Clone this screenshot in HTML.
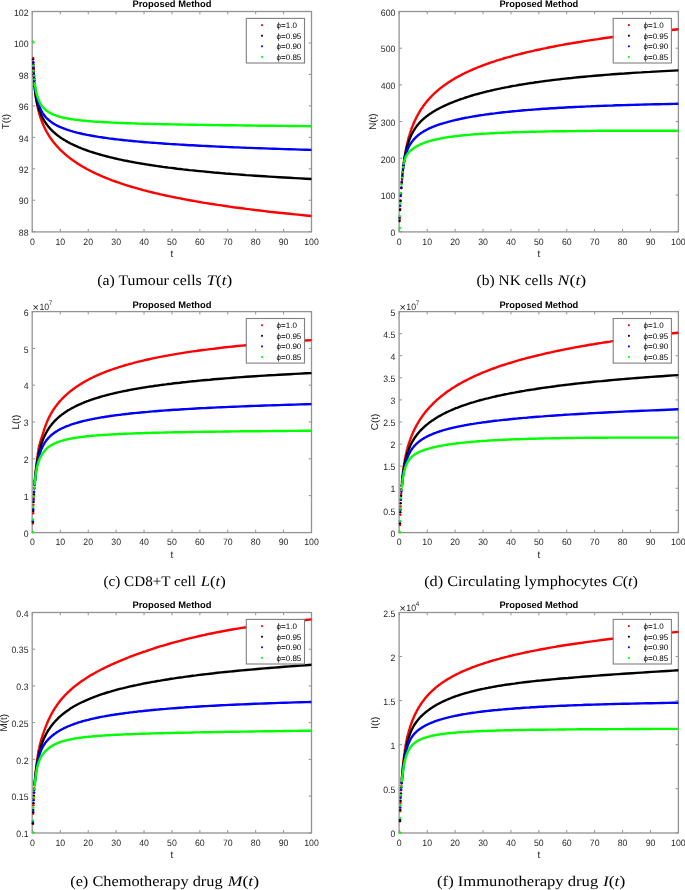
<!DOCTYPE html><html><head><meta charset="utf-8"><title>Proposed Method</title><style>html,body{margin:0;padding:0;background:#fff}svg{display:block;will-change:transform}text{font-family:"Liberation Sans",sans-serif;text-rendering:geometricPrecision}.sf{font-family:"Liberation Serif",serif}</style></head><body>
<svg width="685" height="890" viewBox="0 0 685 890">
<rect width="685" height="890" fill="#fff"/>
<clipPath id="c0"><rect x="32.4" y="10.3" width="280.40000000000003" height="221.39999999999998"/></clipPath>
<rect x="32.199999999999996" y="11.5" width="279.3" height="220.39999999999998" fill="none" stroke="#939393" stroke-width="1.3"/>
<path d="M32.40,231.7v-2.8M32.40,11.5v2.8M60.31,231.7v-2.8M60.31,11.5v2.8M88.22,231.7v-2.8M88.22,11.5v2.8M116.13,231.7v-2.8M116.13,11.5v2.8M144.04,231.7v-2.8M144.04,11.5v2.8M171.95,231.7v-2.8M171.95,11.5v2.8M199.86,231.7v-2.8M199.86,11.5v2.8M227.77,231.7v-2.8M227.77,11.5v2.8M255.68,231.7v-2.8M255.68,11.5v2.8M283.59,231.7v-2.8M283.59,11.5v2.8M311.50,231.7v-2.8M311.50,11.5v2.8M32.4,231.70h2.8M311.5,231.70h-2.8M32.4,200.24h2.8M311.5,200.24h-2.8M32.4,168.79h2.8M311.5,168.79h-2.8M32.4,137.33h2.8M311.5,137.33h-2.8M32.4,105.87h2.8M311.5,105.87h-2.8M32.4,74.41h2.8M311.5,74.41h-2.8M32.4,42.96h2.8M311.5,42.96h-2.8M32.4,11.50h2.8M311.5,11.50h-2.8" stroke="#939393" stroke-width="1" fill="none"/>
<circle cx="33.20" cy="57.93" r="1.2" fill="#ff0000"/><circle cx="33.35" cy="62.42" r="1.2" fill="#ff0000"/><circle cx="33.49" cy="66.11" r="1.2" fill="#ff0000"/><circle cx="33.62" cy="69.14" r="1.2" fill="#ff0000"/><circle cx="33.74" cy="71.61" r="1.2" fill="#ff0000"/><circle cx="33.85" cy="73.91" r="1.2" fill="#ff0000"/><circle cx="33.98" cy="76.21" r="1.2" fill="#ff0000"/><circle cx="34.12" cy="78.50" r="1.2" fill="#ff0000"/><circle cx="34.27" cy="80.80" r="1.2" fill="#ff0000"/><circle cx="34.43" cy="83.09" r="1.2" fill="#ff0000"/><circle cx="33.10" cy="59.35" r="1.2" fill="#000000"/><circle cx="33.30" cy="64.21" r="1.2" fill="#000000"/><circle cx="33.48" cy="68.19" r="1.2" fill="#000000"/><circle cx="33.64" cy="71.45" r="1.2" fill="#000000"/><circle cx="33.78" cy="74.13" r="1.2" fill="#000000"/><circle cx="33.91" cy="76.43" r="1.2" fill="#000000"/><circle cx="34.05" cy="78.72" r="1.2" fill="#000000"/><circle cx="34.20" cy="81.02" r="1.2" fill="#000000"/><circle cx="34.36" cy="83.31" r="1.2" fill="#000000"/><circle cx="34.55" cy="85.60" r="1.2" fill="#000000"/><circle cx="33.20" cy="62.28" r="1.2" fill="#0000ff"/><circle cx="33.46" cy="67.50" r="1.2" fill="#0000ff"/><circle cx="33.71" cy="71.77" r="1.2" fill="#0000ff"/><circle cx="33.95" cy="75.27" r="1.2" fill="#0000ff"/><circle cx="34.17" cy="78.14" r="1.2" fill="#0000ff"/><circle cx="34.38" cy="80.49" r="1.2" fill="#0000ff"/><circle cx="33.20" cy="65.46" r="1.2" fill="#00ff00"/><circle cx="33.55" cy="71.03" r="1.2" fill="#00ff00"/><circle cx="33.91" cy="75.59" r="1.2" fill="#00ff00"/><circle cx="34.26" cy="79.33" r="1.2" fill="#00ff00"/><g clip-path="url(#c0)"><path d="M34.6,85.2 34.7,86.0 34.7,86.8 34.8,87.5 34.9,88.3 34.9,89.1 35.0,89.8 35.1,90.5 35.2,91.3 35.2,92.0 35.3,92.7 35.4,93.4 35.5,94.1 35.6,94.8 35.7,95.5 35.7,96.1 35.8,96.8 35.9,97.4 36.0,98.1 36.1,98.7 36.2,99.4 36.3,100.0 36.4,100.6 36.5,101.3 36.6,101.9 36.7,102.5 36.8,103.1 37.0,103.7 37.1,104.3 37.2,104.9 37.3,105.5 37.4,106.1 37.6,106.7 37.7,107.3 37.8,107.8 37.9,108.4 38.1,109.0 38.2,109.6 38.4,110.1 38.5,110.7 38.6,111.3 38.8,111.8 38.9,112.4 39.1,112.9 39.3,113.5 39.4,114.1 39.6,114.6 39.8,115.2 39.9,115.8 40.1,116.3 40.3,116.9 40.5,117.4 40.7,118.0 40.8,118.6 41.0,119.1 41.2,119.7 41.4,120.2 41.6,120.8 41.9,121.4 42.1,121.9 42.3,122.5 42.5,123.0 42.7,123.6 43.0,124.2 43.2,124.7 43.5,125.3 43.7,125.8 44.0,126.4 44.2,127.0 44.5,127.5 44.8,128.1 45.0,128.6 45.3,129.2 45.6,129.8 45.9,130.3 46.2,130.9 46.5,131.5 46.8,132.0 47.1,132.6 47.5,133.2 47.8,133.7 48.1,134.3 48.5,134.9 48.8,135.4 49.2,136.0 49.6,136.6 49.9,137.1 50.3,137.7 50.7,138.3 51.1,138.8 51.5,139.4 51.9,140.0 52.3,140.6 52.8,141.1 53.2,141.7 53.7,142.3 54.1,142.9 54.6,143.4 55.1,144.0 55.6,144.6 56.1,145.2 56.6,145.8 57.1,146.3 57.6,146.9 58.2,147.5 58.7,148.1 59.3,148.7 59.8,149.3 60.4,149.9 61.0,150.4 61.6,151.0 62.3,151.6 62.9,152.2 63.6,152.8 64.2,153.4 64.9,154.0 65.6,154.6 66.3,155.2 67.0,155.8 67.7,156.4 68.5,157.0 69.3,157.6 70.0,158.2 70.8,158.8 71.7,159.4 72.5,160.0 73.3,160.6 74.2,161.2 75.1,161.8 76.0,162.4 76.9,163.0 77.8,163.7 78.8,164.3 79.8,164.9 80.8,165.5 81.8,166.1 82.8,166.7 83.9,167.3 85.0,167.9 86.1,168.6 87.2,169.2 88.4,169.8 89.5,170.4 90.7,171.0 92.0,171.6 93.2,172.2 94.5,172.9 95.8,173.5 97.1,174.1 98.5,174.7 99.9,175.3 101.3,175.9 102.7,176.6 104.2,177.2 105.7,177.8 107.2,178.4 108.8,179.0 110.4,179.6 112.0,180.3 113.7,180.9 115.4,181.5 117.1,182.1 118.9,182.7 120.7,183.3 122.5,183.9 124.4,184.6 126.3,185.2 128.3,185.8 130.3,186.4 132.3,187.0 134.4,187.6 136.5,188.2 138.7,188.8 140.9,189.4 143.1,190.1 145.5,190.7 147.8,191.3 150.2,191.9 152.7,192.5 155.2,193.1 157.7,193.7 160.3,194.3 163.0,194.9 165.7,195.5 168.5,196.1 171.3,196.7 174.2,197.3 177.1,197.9 180.1,198.4 183.2,199.0 186.3,199.6 189.5,200.2 192.8,200.8 196.1,201.4 199.5,202.0 203.0,202.6 206.5,203.1 210.1,203.7 213.8,204.3 217.6,204.9 221.4,205.4 225.3,206.0 229.3,206.6 233.4,207.2 237.6,207.7 241.9,208.3 246.2,208.9 250.6,209.4 255.1,210.0 259.8,210.5 264.5,211.1 269.3,211.7 274.2,212.2 279.2,212.8 284.3,213.3 289.5,213.8 294.9,214.4 300.3,214.9 305.8,215.5 311.5,216.0" fill="none" stroke="#ff0000" stroke-width="2.4" stroke-linejoin="round"/><path d="M34.6,86.2 34.7,87.0 34.7,87.7 34.8,88.4 34.9,89.1 34.9,89.8 35.0,90.4 35.1,91.1 35.2,91.7 35.2,92.3 35.3,93.0 35.4,93.6 35.5,94.2 35.6,94.7 35.7,95.3 35.7,95.9 35.8,96.4 35.9,97.0 36.0,97.5 36.1,98.0 36.2,98.5 36.3,99.1 36.4,99.6 36.5,100.1 36.6,100.6 36.7,101.1 36.8,101.5 37.0,102.0 37.1,102.5 37.2,103.0 37.3,103.5 37.4,103.9 37.6,104.4 37.7,104.9 37.8,105.4 37.9,105.8 38.1,106.3 38.2,106.8 38.4,107.2 38.5,107.7 38.6,108.2 38.8,108.6 38.9,109.1 39.1,109.5 39.3,110.0 39.4,110.5 39.6,110.9 39.8,111.4 39.9,111.8 40.1,112.3 40.3,112.7 40.5,113.2 40.7,113.6 40.8,114.1 41.0,114.5 41.2,115.0 41.4,115.4 41.6,115.9 41.9,116.3 42.1,116.7 42.3,117.2 42.5,117.6 42.7,118.1 43.0,118.5 43.2,118.9 43.5,119.4 43.7,119.8 44.0,120.2 44.2,120.7 44.5,121.1 44.8,121.5 45.0,122.0 45.3,122.4 45.6,122.8 45.9,123.3 46.2,123.7 46.5,124.1 46.8,124.5 47.1,125.0 47.5,125.4 47.8,125.8 48.1,126.2 48.5,126.7 48.8,127.1 49.2,127.5 49.6,127.9 49.9,128.3 50.3,128.8 50.7,129.2 51.1,129.6 51.5,130.0 51.9,130.4 52.3,130.9 52.8,131.3 53.2,131.7 53.7,132.1 54.1,132.5 54.6,132.9 55.1,133.3 55.6,133.8 56.1,134.2 56.6,134.6 57.1,135.0 57.6,135.4 58.2,135.8 58.7,136.2 59.3,136.6 59.8,137.1 60.4,137.5 61.0,137.9 61.6,138.3 62.3,138.7 62.9,139.1 63.6,139.5 64.2,139.9 64.9,140.3 65.6,140.7 66.3,141.1 67.0,141.6 67.7,142.0 68.5,142.4 69.3,142.8 70.0,143.2 70.8,143.6 71.7,144.0 72.5,144.4 73.3,144.8 74.2,145.2 75.1,145.6 76.0,146.0 76.9,146.4 77.8,146.8 78.8,147.3 79.8,147.7 80.8,148.1 81.8,148.5 82.8,148.9 83.9,149.3 85.0,149.7 86.1,150.1 87.2,150.5 88.4,150.9 89.5,151.3 90.7,151.7 92.0,152.1 93.2,152.5 94.5,152.9 95.8,153.3 97.1,153.7 98.5,154.1 99.9,154.5 101.3,154.9 102.7,155.3 104.2,155.7 105.7,156.1 107.2,156.5 108.8,156.9 110.4,157.3 112.0,157.7 113.7,158.1 115.4,158.5 117.1,158.9 118.9,159.3 120.7,159.7 122.5,160.1 124.4,160.5 126.3,160.8 128.3,161.2 130.3,161.6 132.3,162.0 134.4,162.4 136.5,162.8 138.7,163.1 140.9,163.5 143.1,163.9 145.5,164.3 147.8,164.6 150.2,165.0 152.7,165.4 155.2,165.8 157.7,166.1 160.3,166.5 163.0,166.9 165.7,167.2 168.5,167.6 171.3,167.9 174.2,168.3 177.1,168.7 180.1,169.0 183.2,169.4 186.3,169.7 189.5,170.1 192.8,170.4 196.1,170.8 199.5,171.1 203.0,171.4 206.5,171.8 210.1,172.1 213.8,172.5 217.6,172.8 221.4,173.1 225.3,173.5 229.3,173.8 233.4,174.1 237.6,174.4 241.9,174.7 246.2,175.1 250.6,175.4 255.1,175.7 259.8,176.0 264.5,176.3 269.3,176.6 274.2,176.9 279.2,177.2 284.3,177.5 289.5,177.8 294.9,178.1 300.3,178.4 305.8,178.7 311.5,179.0" fill="none" stroke="#000000" stroke-width="2.4" stroke-linejoin="round"/><path d="M34.6,82.8 34.7,83.4 34.7,84.0 34.8,84.7 34.9,85.3 34.9,85.9 35.0,86.5 35.1,87.1 35.2,87.7 35.2,88.3 35.3,88.9 35.4,89.5 35.5,90.0 35.6,90.6 35.7,91.2 35.7,91.8 35.8,92.3 35.9,92.9 36.0,93.4 36.1,94.0 36.2,94.5 36.3,95.0 36.4,95.5 36.5,96.1 36.6,96.6 36.7,97.1 36.8,97.6 37.0,98.1 37.1,98.6 37.2,99.1 37.3,99.6 37.4,100.1 37.6,100.6 37.7,101.0 37.8,101.5 37.9,102.0 38.1,102.4 38.2,102.9 38.4,103.4 38.5,103.8 38.6,104.3 38.8,104.7 38.9,105.1 39.1,105.6 39.3,106.0 39.4,106.4 39.6,106.9 39.8,107.3 39.9,107.7 40.1,108.1 40.3,108.5 40.5,108.9 40.7,109.3 40.8,109.7 41.0,110.1 41.2,110.5 41.4,110.9 41.6,111.3 41.9,111.6 42.1,112.0 42.3,112.4 42.5,112.8 42.7,113.1 43.0,113.5 43.2,113.9 43.5,114.2 43.7,114.6 44.0,114.9 44.2,115.3 44.5,115.6 44.8,115.9 45.0,116.3 45.3,116.6 45.6,117.0 45.9,117.3 46.2,117.6 46.5,117.9 46.8,118.3 47.1,118.6 47.5,118.9 47.8,119.2 48.1,119.5 48.5,119.8 48.8,120.1 49.2,120.4 49.6,120.7 49.9,121.0 50.3,121.3 50.7,121.6 51.1,121.9 51.5,122.2 51.9,122.5 52.3,122.8 52.8,123.1 53.2,123.4 53.7,123.7 54.1,123.9 54.6,124.2 55.1,124.5 55.6,124.8 56.1,125.0 56.6,125.3 57.1,125.6 57.6,125.8 58.2,126.1 58.7,126.4 59.3,126.6 59.8,126.9 60.4,127.2 61.0,127.4 61.6,127.7 62.3,127.9 62.9,128.2 63.6,128.4 64.2,128.7 64.9,128.9 65.6,129.2 66.3,129.4 67.0,129.7 67.7,129.9 68.5,130.2 69.3,130.4 70.0,130.7 70.8,130.9 71.7,131.1 72.5,131.4 73.3,131.6 74.2,131.9 75.1,132.1 76.0,132.3 76.9,132.6 77.8,132.8 78.8,133.0 79.8,133.3 80.8,133.5 81.8,133.7 82.8,134.0 83.9,134.2 85.0,134.4 86.1,134.7 87.2,134.9 88.4,135.1 89.5,135.3 90.7,135.5 92.0,135.8 93.2,136.0 94.5,136.2 95.8,136.4 97.1,136.6 98.5,136.9 99.9,137.1 101.3,137.3 102.7,137.5 104.2,137.7 105.7,137.9 107.2,138.1 108.8,138.4 110.4,138.6 112.0,138.8 113.7,139.0 115.4,139.2 117.1,139.4 118.9,139.6 120.7,139.8 122.5,140.0 124.4,140.2 126.3,140.4 128.3,140.6 130.3,140.8 132.3,141.0 134.4,141.2 136.5,141.4 138.7,141.6 140.9,141.8 143.1,142.0 145.5,142.2 147.8,142.4 150.2,142.6 152.7,142.7 155.2,142.9 157.7,143.1 160.3,143.3 163.0,143.5 165.7,143.7 168.5,143.9 171.3,144.1 174.2,144.2 177.1,144.4 180.1,144.6 183.2,144.8 186.3,145.0 189.5,145.2 192.8,145.3 196.1,145.5 199.5,145.7 203.0,145.9 206.5,146.0 210.1,146.2 213.8,146.4 217.6,146.6 221.4,146.7 225.3,146.9 229.3,147.1 233.4,147.3 237.6,147.4 241.9,147.6 246.2,147.8 250.6,147.9 255.1,148.1 259.8,148.3 264.5,148.4 269.3,148.6 274.2,148.8 279.2,148.9 284.3,149.1 289.5,149.2 294.9,149.4 300.3,149.6 305.8,149.7 311.5,149.9" fill="none" stroke="#0000ff" stroke-width="2.4" stroke-linejoin="round"/><path d="M34.6,82.3 34.7,82.8 34.7,83.3 34.8,83.8 34.9,84.3 34.9,84.8 35.0,85.3 35.1,85.8 35.2,86.3 35.2,86.8 35.3,87.3 35.4,87.8 35.5,88.3 35.6,88.7 35.7,89.2 35.7,89.7 35.8,90.1 35.9,90.6 36.0,91.0 36.1,91.5 36.2,91.9 36.3,92.3 36.4,92.8 36.5,93.2 36.6,93.6 36.7,94.1 36.8,94.5 37.0,94.9 37.1,95.3 37.2,95.7 37.3,96.1 37.4,96.5 37.6,96.9 37.7,97.3 37.8,97.7 37.9,98.0 38.1,98.4 38.2,98.8 38.4,99.2 38.5,99.5 38.6,99.9 38.8,100.2 38.9,100.6 39.1,100.9 39.3,101.3 39.4,101.6 39.6,102.0 39.8,102.3 39.9,102.6 40.1,103.0 40.3,103.3 40.5,103.6 40.7,103.9 40.8,104.3 41.0,104.6 41.2,104.9 41.4,105.2 41.6,105.5 41.9,105.8 42.1,106.1 42.3,106.4 42.5,106.7 42.7,106.9 43.0,107.2 43.2,107.5 43.5,107.8 43.7,108.0 44.0,108.3 44.2,108.6 44.5,108.8 44.8,109.1 45.0,109.4 45.3,109.6 45.6,109.9 45.9,110.1 46.2,110.4 46.5,110.6 46.8,110.8 47.1,111.1 47.5,111.3 47.8,111.5 48.1,111.8 48.5,112.0 48.8,112.2 49.2,112.4 49.6,112.6 49.9,112.9 50.3,113.1 50.7,113.3 51.1,113.5 51.5,113.7 51.9,113.9 52.3,114.1 52.8,114.3 53.2,114.5 53.7,114.7 54.1,114.8 54.6,115.0 55.1,115.2 55.6,115.4 56.1,115.6 56.6,115.7 57.1,115.9 57.6,116.1 58.2,116.3 58.7,116.4 59.3,116.6 59.8,116.8 60.4,116.9 61.0,117.1 61.6,117.2 62.3,117.4 62.9,117.5 63.6,117.7 64.2,117.8 64.9,118.0 65.6,118.1 66.3,118.3 67.0,118.4 67.7,118.5 68.5,118.7 69.3,118.8 70.0,118.9 70.8,119.1 71.7,119.2 72.5,119.3 73.3,119.4 74.2,119.6 75.1,119.7 76.0,119.8 76.9,119.9 77.8,120.0 78.8,120.1 79.8,120.2 80.8,120.4 81.8,120.5 82.8,120.6 83.9,120.7 85.0,120.8 86.1,120.9 87.2,121.0 88.4,121.1 89.5,121.2 90.7,121.3 92.0,121.4 93.2,121.5 94.5,121.6 95.8,121.7 97.1,121.7 98.5,121.8 99.9,121.9 101.3,122.0 102.7,122.1 104.2,122.2 105.7,122.3 107.2,122.3 108.8,122.4 110.4,122.5 112.0,122.6 113.7,122.6 115.4,122.7 117.1,122.8 118.9,122.9 120.7,122.9 122.5,123.0 124.4,123.1 126.3,123.2 128.3,123.2 130.3,123.3 132.3,123.4 134.4,123.4 136.5,123.5 138.7,123.6 140.9,123.6 143.1,123.7 145.5,123.8 147.8,123.8 150.2,123.9 152.7,123.9 155.2,124.0 157.7,124.1 160.3,124.1 163.0,124.2 165.7,124.2 168.5,124.3 171.3,124.4 174.2,124.4 177.1,124.5 180.1,124.5 183.2,124.6 186.3,124.6 189.5,124.7 192.8,124.7 196.1,124.8 199.5,124.9 203.0,124.9 206.5,125.0 210.1,125.0 213.8,125.1 217.6,125.1 221.4,125.2 225.3,125.2 229.3,125.3 233.4,125.3 237.6,125.4 241.9,125.4 246.2,125.5 250.6,125.5 255.1,125.6 259.8,125.7 264.5,125.7 269.3,125.8 274.2,125.8 279.2,125.9 284.3,125.9 289.5,126.0 294.9,126.0 300.3,126.1 305.8,126.1 311.5,126.2" fill="none" stroke="#00ff00" stroke-width="2.4" stroke-linejoin="round"/></g><circle cx="33.00" cy="41.70" r="1.3" fill="#00ff00"/>
<text transform="translate(32.40,244.70) scale(0.95,1)" font-size="9.2" text-anchor="middle" fill="#262626">0</text>
<text transform="translate(60.31,244.70) scale(0.95,1)" font-size="9.2" text-anchor="middle" fill="#262626">10</text>
<text transform="translate(88.22,244.70) scale(0.95,1)" font-size="9.2" text-anchor="middle" fill="#262626">20</text>
<text transform="translate(116.13,244.70) scale(0.95,1)" font-size="9.2" text-anchor="middle" fill="#262626">30</text>
<text transform="translate(144.04,244.70) scale(0.95,1)" font-size="9.2" text-anchor="middle" fill="#262626">40</text>
<text transform="translate(171.95,244.70) scale(0.95,1)" font-size="9.2" text-anchor="middle" fill="#262626">50</text>
<text transform="translate(199.86,244.70) scale(0.95,1)" font-size="9.2" text-anchor="middle" fill="#262626">60</text>
<text transform="translate(227.77,244.70) scale(0.95,1)" font-size="9.2" text-anchor="middle" fill="#262626">70</text>
<text transform="translate(255.68,244.70) scale(0.95,1)" font-size="9.2" text-anchor="middle" fill="#262626">80</text>
<text transform="translate(283.59,244.70) scale(0.95,1)" font-size="9.2" text-anchor="middle" fill="#262626">90</text>
<text transform="translate(311.50,244.70) scale(0.95,1)" font-size="9.2" text-anchor="middle" fill="#262626">100</text>
<text transform="translate(28.50,235.90) scale(0.95,1)" font-size="9.2" text-anchor="end" fill="#262626">88</text>
<text transform="translate(28.50,204.44) scale(0.95,1)" font-size="9.2" text-anchor="end" fill="#262626">90</text>
<text transform="translate(28.50,172.99) scale(0.95,1)" font-size="9.2" text-anchor="end" fill="#262626">92</text>
<text transform="translate(28.50,141.53) scale(0.95,1)" font-size="9.2" text-anchor="end" fill="#262626">94</text>
<text transform="translate(28.50,110.07) scale(0.95,1)" font-size="9.2" text-anchor="end" fill="#262626">96</text>
<text transform="translate(28.50,78.61) scale(0.95,1)" font-size="9.2" text-anchor="end" fill="#262626">98</text>
<text transform="translate(28.50,47.16) scale(0.95,1)" font-size="9.2" text-anchor="end" fill="#262626">100</text>
<text transform="translate(28.50,15.70) scale(0.95,1)" font-size="9.2" text-anchor="end" fill="#262626">102</text>
<text x="171.95" y="7.40" font-size="9.35" font-weight="bold" text-anchor="middle" fill="#000">Proposed Method</text>
<text x="171.95" y="257.00" font-size="9.9" text-anchor="middle" fill="#262626">t</text>
<text transform="translate(8.70,121.60) rotate(-90)" font-size="9.9" text-anchor="middle" fill="#262626">T(t)</text>
<rect x="246.30" y="18.40" width="58.2" height="44.6" fill="#fff" stroke="#808080" stroke-width="1.1"/>
<rect x="261.10" y="24.20" width="1.8" height="1.8" fill="#ff0000"/>
<text x="276.60" y="28.00" font-size="8.0" fill="#000">ϕ=<tspan>1.0</tspan></text>
<rect x="261.10" y="34.80" width="1.8" height="1.8" fill="#000000"/>
<text x="276.60" y="38.60" font-size="8.0" fill="#000">ϕ=<tspan>0.95</tspan></text>
<rect x="261.10" y="45.40" width="1.8" height="1.8" fill="#0000ff"/>
<text x="276.60" y="49.20" font-size="8.0" fill="#000">ϕ=<tspan>0.90</tspan></text>
<rect x="261.10" y="56.00" width="1.8" height="1.8" fill="#00ff00"/>
<text x="276.60" y="59.80" font-size="8.0" fill="#000">ϕ=<tspan>0.85</tspan></text>
<text class="sf" x="97.30" y="284.6" font-size="14.7" textLength="104.4" lengthAdjust="spacingAndGlyphs" fill="#000">(a) Tumour cells</text>
<text class="sf" x="206.40" y="284.6" font-size="14.7" textLength="25.9" lengthAdjust="spacingAndGlyphs" fill="#000"><tspan font-style="italic">T</tspan>(<tspan font-style="italic">t</tspan>)</text>
<clipPath id="c1"><rect x="399.3" y="10.3" width="280.4" height="221.39999999999998"/></clipPath>
<rect x="399.1" y="11.5" width="279.29999999999995" height="220.39999999999998" fill="none" stroke="#939393" stroke-width="1.3"/>
<path d="M399.30,231.7v-2.8M399.30,11.5v2.8M427.21,231.7v-2.8M427.21,11.5v2.8M455.12,231.7v-2.8M455.12,11.5v2.8M483.03,231.7v-2.8M483.03,11.5v2.8M510.94,231.7v-2.8M510.94,11.5v2.8M538.85,231.7v-2.8M538.85,11.5v2.8M566.76,231.7v-2.8M566.76,11.5v2.8M594.67,231.7v-2.8M594.67,11.5v2.8M622.58,231.7v-2.8M622.58,11.5v2.8M650.49,231.7v-2.8M650.49,11.5v2.8M678.40,231.7v-2.8M678.40,11.5v2.8M399.3,231.70h2.8M678.4,231.70h-2.8M399.3,195.00h2.8M678.4,195.00h-2.8M399.3,158.30h2.8M678.4,158.30h-2.8M399.3,121.60h2.8M678.4,121.60h-2.8M399.3,84.90h2.8M678.4,84.90h-2.8M399.3,48.20h2.8M678.4,48.20h-2.8M399.3,11.50h2.8M678.4,11.50h-2.8" stroke="#939393" stroke-width="1" fill="none"/>
<circle cx="399.70" cy="219.04" r="1.2" fill="#ff0000"/><circle cx="400.13" cy="208.85" r="1.2" fill="#ff0000"/><circle cx="400.55" cy="200.50" r="1.2" fill="#ff0000"/><circle cx="400.95" cy="193.65" r="1.2" fill="#ff0000"/><circle cx="401.32" cy="188.04" r="1.2" fill="#ff0000"/><circle cx="401.66" cy="183.44" r="1.2" fill="#ff0000"/><circle cx="401.97" cy="179.67" r="1.2" fill="#ff0000"/><circle cx="402.25" cy="176.58" r="1.2" fill="#ff0000"/><circle cx="402.49" cy="174.05" r="1.2" fill="#ff0000"/><circle cx="402.72" cy="171.76" r="1.2" fill="#ff0000"/><circle cx="402.97" cy="169.48" r="1.2" fill="#ff0000"/><circle cx="403.23" cy="167.19" r="1.2" fill="#ff0000"/><circle cx="403.51" cy="164.91" r="1.2" fill="#ff0000"/><circle cx="403.80" cy="162.63" r="1.2" fill="#ff0000"/><circle cx="399.60" cy="220.96" r="1.2" fill="#000000"/><circle cx="400.09" cy="209.96" r="1.2" fill="#000000"/><circle cx="400.55" cy="200.94" r="1.2" fill="#000000"/><circle cx="400.99" cy="193.54" r="1.2" fill="#000000"/><circle cx="401.40" cy="187.48" r="1.2" fill="#000000"/><circle cx="401.78" cy="182.52" r="1.2" fill="#000000"/><circle cx="402.13" cy="178.45" r="1.2" fill="#000000"/><circle cx="402.44" cy="175.11" r="1.2" fill="#000000"/><circle cx="402.72" cy="172.38" r="1.2" fill="#000000"/><circle cx="402.97" cy="170.10" r="1.2" fill="#000000"/><circle cx="403.24" cy="167.81" r="1.2" fill="#000000"/><circle cx="403.53" cy="165.53" r="1.2" fill="#000000"/><circle cx="403.84" cy="163.25" r="1.2" fill="#000000"/><circle cx="399.60" cy="217.57" r="1.2" fill="#0000ff"/><circle cx="400.21" cy="205.75" r="1.2" fill="#0000ff"/><circle cx="400.74" cy="196.06" r="1.2" fill="#0000ff"/><circle cx="401.26" cy="188.12" r="1.2" fill="#0000ff"/><circle cx="401.75" cy="181.62" r="1.2" fill="#0000ff"/><circle cx="402.22" cy="176.29" r="1.2" fill="#0000ff"/><circle cx="402.67" cy="171.93" r="1.2" fill="#0000ff"/><circle cx="403.10" cy="168.36" r="1.2" fill="#0000ff"/><circle cx="403.50" cy="165.43" r="1.2" fill="#0000ff"/><circle cx="403.88" cy="163.04" r="1.2" fill="#0000ff"/><circle cx="399.60" cy="216.02" r="1.2" fill="#00ff00"/><circle cx="400.30" cy="203.39" r="1.2" fill="#00ff00"/><circle cx="400.88" cy="193.04" r="1.2" fill="#00ff00"/><circle cx="401.45" cy="184.55" r="1.2" fill="#00ff00"/><circle cx="402.02" cy="177.60" r="1.2" fill="#00ff00"/><circle cx="402.59" cy="171.91" r="1.2" fill="#00ff00"/><circle cx="403.19" cy="167.26" r="1.2" fill="#00ff00"/><circle cx="403.83" cy="163.47" r="1.2" fill="#00ff00"/><g clip-path="url(#c1)"><path d="M404.0,161.2 404.1,160.5 404.2,159.7 404.3,159.0 404.4,158.3 404.5,157.6 404.6,156.9 404.8,156.1 404.9,155.4 405.0,154.7 405.1,154.0 405.2,153.3 405.4,152.6 405.5,151.9 405.6,151.2 405.7,150.5 405.9,149.8 406.0,149.1 406.2,148.4 406.3,147.7 406.4,147.0 406.6,146.4 406.7,145.7 406.9,145.0 407.0,144.3 407.2,143.6 407.4,143.0 407.5,142.3 407.7,141.6 407.8,140.9 408.0,140.3 408.2,139.6 408.4,138.9 408.6,138.2 408.7,137.6 408.9,136.9 409.1,136.2 409.3,135.6 409.5,134.9 409.7,134.3 409.9,133.6 410.1,132.9 410.3,132.3 410.5,131.6 410.8,131.0 411.0,130.3 411.2,129.7 411.4,129.0 411.7,128.3 411.9,127.7 412.2,127.0 412.4,126.4 412.7,125.7 412.9,125.1 413.2,124.5 413.5,123.8 413.7,123.2 414.0,122.5 414.3,121.9 414.6,121.2 414.9,120.6 415.2,120.0 415.5,119.3 415.8,118.7 416.1,118.0 416.4,117.4 416.7,116.8 417.1,116.1 417.4,115.5 417.7,114.9 418.1,114.3 418.4,113.6 418.8,113.0 419.2,112.4 419.6,111.7 419.9,111.1 420.3,110.5 420.7,109.9 421.1,109.2 421.5,108.6 421.9,108.0 422.4,107.4 422.8,106.8 423.2,106.1 423.7,105.5 424.1,104.9 424.6,104.3 425.1,103.7 425.6,103.1 426.1,102.4 426.5,101.8 427.1,101.2 427.6,100.6 428.1,100.0 428.6,99.4 429.2,98.8 429.7,98.2 430.3,97.6 430.9,96.9 431.5,96.3 432.0,95.7 432.7,95.1 433.3,94.5 433.9,93.9 434.5,93.3 435.2,92.7 435.8,92.1 436.5,91.5 437.2,90.9 437.9,90.3 438.6,89.7 439.3,89.1 440.1,88.5 440.8,87.9 441.6,87.3 442.4,86.7 443.2,86.1 444.0,85.6 444.8,85.0 445.6,84.4 446.5,83.8 447.3,83.2 448.2,82.6 449.1,82.0 450.0,81.4 450.9,80.8 451.9,80.2 452.8,79.7 453.8,79.1 454.8,78.5 455.8,77.9 456.9,77.3 457.9,76.7 459.0,76.1 460.1,75.6 461.2,75.0 462.3,74.4 463.5,73.8 464.6,73.2 465.8,72.7 467.0,72.1 468.3,71.5 469.5,70.9 470.8,70.4 472.1,69.8 473.4,69.2 474.8,68.6 476.1,68.1 477.5,67.5 479.0,66.9 480.4,66.4 481.9,65.8 483.4,65.2 484.9,64.7 486.5,64.1 488.0,63.5 489.7,63.0 491.3,62.4 493.0,61.8 494.7,61.3 496.4,60.7 498.2,60.2 499.9,59.6 501.8,59.1 503.6,58.5 505.5,57.9 507.4,57.4 509.4,56.8 511.4,56.3 513.4,55.7 515.5,55.2 517.6,54.6 519.7,54.1 521.9,53.5 524.1,53.0 526.4,52.4 528.7,51.9 531.0,51.3 533.4,50.8 535.8,50.2 538.3,49.7 540.8,49.2 543.4,48.6 546.0,48.1 548.6,47.5 551.3,47.0 554.1,46.5 556.8,45.9 559.7,45.4 562.6,44.9 565.5,44.3 568.5,43.8 571.6,43.3 574.7,42.7 577.9,42.2 581.1,41.7 584.4,41.1 587.7,40.6 591.1,40.1 594.6,39.6 598.1,39.1 601.7,38.5 605.3,38.0 609.0,37.5 612.8,37.0 616.7,36.4 620.6,35.9 624.6,35.4 628.6,34.9 632.8,34.4 637.0,33.9 641.3,33.4 645.6,32.9 650.1,32.3 654.6,31.8 659.2,31.3 663.8,30.8 668.6,30.3 673.5,29.8 678.4,29.3" fill="none" stroke="#ff0000" stroke-width="2.4" stroke-linejoin="round"/><path d="M404.0,162.1 404.1,161.4 404.2,160.8 404.3,160.1 404.4,159.4 404.5,158.8 404.6,158.1 404.8,157.4 404.9,156.8 405.0,156.1 405.1,155.5 405.2,154.9 405.4,154.2 405.5,153.6 405.6,153.0 405.7,152.4 405.9,151.8 406.0,151.1 406.2,150.5 406.3,149.9 406.4,149.3 406.6,148.8 406.7,148.2 406.9,147.6 407.0,147.0 407.2,146.4 407.4,145.9 407.5,145.3 407.7,144.7 407.8,144.2 408.0,143.6 408.2,143.1 408.4,142.5 408.6,142.0 408.7,141.4 408.9,140.9 409.1,140.4 409.3,139.9 409.5,139.3 409.7,138.8 409.9,138.3 410.1,137.8 410.3,137.3 410.5,136.8 410.8,136.3 411.0,135.8 411.2,135.3 411.4,134.8 411.7,134.3 411.9,133.9 412.2,133.4 412.4,132.9 412.7,132.4 412.9,132.0 413.2,131.5 413.5,131.0 413.7,130.6 414.0,130.1 414.3,129.7 414.6,129.2 414.9,128.8 415.2,128.3 415.5,127.9 415.8,127.4 416.1,127.0 416.4,126.6 416.7,126.1 417.1,125.7 417.4,125.3 417.7,124.9 418.1,124.4 418.4,124.0 418.8,123.6 419.2,123.2 419.6,122.8 419.9,122.3 420.3,121.9 420.7,121.5 421.1,121.1 421.5,120.7 421.9,120.3 422.4,119.9 422.8,119.5 423.2,119.1 423.7,118.7 424.1,118.3 424.6,117.9 425.1,117.5 425.6,117.1 426.1,116.7 426.5,116.3 427.1,116.0 427.6,115.6 428.1,115.2 428.6,114.8 429.2,114.4 429.7,114.0 430.3,113.6 430.9,113.3 431.5,112.9 432.0,112.5 432.7,112.1 433.3,111.7 433.9,111.3 434.5,111.0 435.2,110.6 435.8,110.2 436.5,109.8 437.2,109.4 437.9,109.1 438.6,108.7 439.3,108.3 440.1,107.9 440.8,107.5 441.6,107.2 442.4,106.8 443.2,106.4 444.0,106.0 444.8,105.6 445.6,105.2 446.5,104.9 447.3,104.5 448.2,104.1 449.1,103.7 450.0,103.3 450.9,102.9 451.9,102.6 452.8,102.2 453.8,101.8 454.8,101.4 455.8,101.0 456.9,100.6 457.9,100.2 459.0,99.8 460.1,99.4 461.2,99.0 462.3,98.7 463.5,98.3 464.6,97.9 465.8,97.5 467.0,97.1 468.3,96.7 469.5,96.3 470.8,95.9 472.1,95.5 473.4,95.1 474.8,94.7 476.1,94.3 477.5,94.0 479.0,93.6 480.4,93.2 481.9,92.8 483.4,92.4 484.9,92.0 486.5,91.6 488.0,91.2 489.7,90.9 491.3,90.5 493.0,90.1 494.7,89.7 496.4,89.3 498.2,88.9 499.9,88.6 501.8,88.2 503.6,87.8 505.5,87.4 507.4,87.1 509.4,86.7 511.4,86.3 513.4,85.9 515.5,85.6 517.6,85.2 519.7,84.8 521.9,84.5 524.1,84.1 526.4,83.8 528.7,83.4 531.0,83.0 533.4,82.7 535.8,82.3 538.3,82.0 540.8,81.6 543.4,81.3 546.0,80.9 548.6,80.6 551.3,80.3 554.1,79.9 556.8,79.6 559.7,79.3 562.6,78.9 565.5,78.6 568.5,78.3 571.6,78.0 574.7,77.6 577.9,77.3 581.1,77.0 584.4,76.7 587.7,76.4 591.1,76.1 594.6,75.8 598.1,75.5 601.7,75.2 605.3,74.9 609.0,74.6 612.8,74.3 616.7,74.0 620.6,73.7 624.6,73.5 628.6,73.2 632.8,72.9 637.0,72.6 641.3,72.4 645.6,72.1 650.1,71.9 654.6,71.6 659.2,71.4 663.8,71.1 668.6,70.9 673.5,70.6 678.4,70.4" fill="none" stroke="#000000" stroke-width="2.4" stroke-linejoin="round"/><path d="M404.0,162.3 404.1,161.8 404.2,161.2 404.3,160.6 404.4,160.1 404.5,159.6 404.6,159.0 404.8,158.5 404.9,158.0 405.0,157.5 405.1,157.0 405.2,156.5 405.4,156.0 405.5,155.5 405.6,155.1 405.7,154.6 405.9,154.2 406.0,153.7 406.2,153.3 406.3,152.8 406.4,152.4 406.6,152.0 406.7,151.6 406.9,151.2 407.0,150.8 407.2,150.4 407.4,150.0 407.5,149.6 407.7,149.2 407.8,148.8 408.0,148.4 408.2,148.0 408.4,147.7 408.6,147.3 408.7,146.9 408.9,146.6 409.1,146.2 409.3,145.9 409.5,145.5 409.7,145.2 409.9,144.8 410.1,144.5 410.3,144.1 410.5,143.8 410.8,143.4 411.0,143.1 411.2,142.7 411.4,142.4 411.7,142.1 411.9,141.8 412.2,141.4 412.4,141.1 412.7,140.8 412.9,140.5 413.2,140.1 413.5,139.8 413.7,139.5 414.0,139.2 414.3,138.9 414.6,138.6 414.9,138.3 415.2,138.0 415.5,137.6 415.8,137.3 416.1,137.0 416.4,136.7 416.7,136.5 417.1,136.2 417.4,135.9 417.7,135.6 418.1,135.3 418.4,135.0 418.8,134.7 419.2,134.4 419.6,134.1 419.9,133.9 420.3,133.6 420.7,133.3 421.1,133.0 421.5,132.7 421.9,132.5 422.4,132.2 422.8,131.9 423.2,131.7 423.7,131.4 424.1,131.1 424.6,130.8 425.1,130.6 425.6,130.3 426.1,130.1 426.5,129.8 427.1,129.5 427.6,129.3 428.1,129.0 428.6,128.7 429.2,128.5 429.7,128.2 430.3,128.0 430.9,127.7 431.5,127.5 432.0,127.2 432.7,127.0 433.3,126.7 433.9,126.5 434.5,126.2 435.2,126.0 435.8,125.7 436.5,125.5 437.2,125.2 437.9,125.0 438.6,124.7 439.3,124.5 440.1,124.2 440.8,124.0 441.6,123.8 442.4,123.5 443.2,123.3 444.0,123.0 444.8,122.8 445.6,122.6 446.5,122.3 447.3,122.1 448.2,121.8 449.1,121.6 450.0,121.4 450.9,121.1 451.9,120.9 452.8,120.6 453.8,120.4 454.8,120.2 455.8,119.9 456.9,119.7 457.9,119.5 459.0,119.2 460.1,119.0 461.2,118.7 462.3,118.5 463.5,118.3 464.6,118.0 465.8,117.8 467.0,117.6 468.3,117.4 469.5,117.1 470.8,116.9 472.1,116.7 473.4,116.4 474.8,116.2 476.1,116.0 477.5,115.8 479.0,115.5 480.4,115.3 481.9,115.1 483.4,114.9 484.9,114.6 486.5,114.4 488.0,114.2 489.7,114.0 491.3,113.8 493.0,113.6 494.7,113.4 496.4,113.1 498.2,112.9 499.9,112.7 501.8,112.5 503.6,112.3 505.5,112.1 507.4,111.9 509.4,111.7 511.4,111.5 513.4,111.3 515.5,111.1 517.6,110.9 519.7,110.7 521.9,110.5 524.1,110.3 526.4,110.1 528.7,109.9 531.0,109.8 533.4,109.6 535.8,109.4 538.3,109.2 540.8,109.0 543.4,108.8 546.0,108.7 548.6,108.5 551.3,108.3 554.1,108.2 556.8,108.0 559.7,107.8 562.6,107.7 565.5,107.5 568.5,107.3 571.6,107.2 574.7,107.0 577.9,106.9 581.1,106.7 584.4,106.6 587.7,106.4 591.1,106.3 594.6,106.1 598.1,106.0 601.7,105.9 605.3,105.7 609.0,105.6 612.8,105.5 616.7,105.3 620.6,105.2 624.6,105.1 628.6,105.0 632.8,104.9 637.0,104.7 641.3,104.6 645.6,104.5 650.1,104.4 654.6,104.3 659.2,104.2 663.8,104.1 668.6,104.0 673.5,103.9 678.4,103.8" fill="none" stroke="#0000ff" stroke-width="2.4" stroke-linejoin="round"/><path d="M404.0,162.6 404.1,162.2 404.2,161.7 404.3,161.3 404.4,160.8 404.5,160.4 404.6,160.0 404.8,159.6 404.9,159.3 405.0,158.9 405.1,158.5 405.2,158.2 405.4,157.9 405.5,157.6 405.6,157.2 405.7,156.9 405.9,156.7 406.0,156.4 406.2,156.1 406.3,155.8 406.4,155.6 406.6,155.3 406.7,155.1 406.9,154.8 407.0,154.6 407.2,154.4 407.4,154.1 407.5,153.9 407.7,153.7 407.8,153.5 408.0,153.3 408.2,153.1 408.4,152.9 408.6,152.7 408.7,152.5 408.9,152.3 409.1,152.1 409.3,151.9 409.5,151.7 409.7,151.5 409.9,151.3 410.1,151.1 410.3,150.9 410.5,150.7 410.8,150.5 411.0,150.3 411.2,150.1 411.4,149.9 411.7,149.7 411.9,149.5 412.2,149.3 412.4,149.1 412.7,148.9 412.9,148.7 413.2,148.6 413.5,148.4 413.7,148.2 414.0,148.0 414.3,147.8 414.6,147.6 414.9,147.4 415.2,147.2 415.5,147.0 415.8,146.8 416.1,146.7 416.4,146.5 416.7,146.3 417.1,146.1 417.4,145.9 417.7,145.7 418.1,145.6 418.4,145.4 418.8,145.2 419.2,145.0 419.6,144.8 419.9,144.6 420.3,144.5 420.7,144.3 421.1,144.1 421.5,143.9 421.9,143.8 422.4,143.6 422.8,143.4 423.2,143.2 423.7,143.1 424.1,142.9 424.6,142.7 425.1,142.5 425.6,142.4 426.1,142.2 426.5,142.0 427.1,141.9 427.6,141.7 428.1,141.5 428.6,141.4 429.2,141.2 429.7,141.0 430.3,140.9 430.9,140.7 431.5,140.6 432.0,140.4 432.7,140.2 433.3,140.1 433.9,139.9 434.5,139.8 435.2,139.6 435.8,139.5 436.5,139.3 437.2,139.2 437.9,139.0 438.6,138.9 439.3,138.7 440.1,138.6 440.8,138.4 441.6,138.3 442.4,138.1 443.2,138.0 444.0,137.9 444.8,137.7 445.6,137.6 446.5,137.4 447.3,137.3 448.2,137.2 449.1,137.0 450.0,136.9 450.9,136.8 451.9,136.7 452.8,136.5 453.8,136.4 454.8,136.3 455.8,136.1 456.9,136.0 457.9,135.9 459.0,135.8 460.1,135.7 461.2,135.5 462.3,135.4 463.5,135.3 464.6,135.2 465.8,135.1 467.0,135.0 468.3,134.9 469.5,134.8 470.8,134.6 472.1,134.5 473.4,134.4 474.8,134.3 476.1,134.2 477.5,134.1 479.0,134.0 480.4,133.9 481.9,133.8 483.4,133.7 484.9,133.6 486.5,133.6 488.0,133.5 489.7,133.4 491.3,133.3 493.0,133.2 494.7,133.1 496.4,133.0 498.2,132.9 499.9,132.9 501.8,132.8 503.6,132.7 505.5,132.6 507.4,132.5 509.4,132.5 511.4,132.4 513.4,132.3 515.5,132.3 517.6,132.2 519.7,132.1 521.9,132.1 524.1,132.0 526.4,131.9 528.7,131.9 531.0,131.8 533.4,131.8 535.8,131.7 538.3,131.6 540.8,131.6 543.4,131.5 546.0,131.5 548.6,131.4 551.3,131.4 554.1,131.3 556.8,131.3 559.7,131.2 562.6,131.2 565.5,131.2 568.5,131.1 571.6,131.1 574.7,131.1 577.9,131.0 581.1,131.0 584.4,131.0 587.7,130.9 591.1,130.9 594.6,130.9 598.1,130.8 601.7,130.8 605.3,130.8 609.0,130.8 612.8,130.8 616.7,130.7 620.6,130.7 624.6,130.7 628.6,130.7 632.8,130.7 637.0,130.7 641.3,130.7 645.6,130.7 650.1,130.7 654.6,130.7 659.2,130.7 663.8,130.7 668.6,130.7 673.5,130.7 678.4,130.7" fill="none" stroke="#00ff00" stroke-width="2.4" stroke-linejoin="round"/></g><circle cx="399.70" cy="228.10" r="1.3" fill="#00ff00"/>
<text transform="translate(399.30,244.70) scale(0.95,1)" font-size="9.2" text-anchor="middle" fill="#262626">0</text>
<text transform="translate(427.21,244.70) scale(0.95,1)" font-size="9.2" text-anchor="middle" fill="#262626">10</text>
<text transform="translate(455.12,244.70) scale(0.95,1)" font-size="9.2" text-anchor="middle" fill="#262626">20</text>
<text transform="translate(483.03,244.70) scale(0.95,1)" font-size="9.2" text-anchor="middle" fill="#262626">30</text>
<text transform="translate(510.94,244.70) scale(0.95,1)" font-size="9.2" text-anchor="middle" fill="#262626">40</text>
<text transform="translate(538.85,244.70) scale(0.95,1)" font-size="9.2" text-anchor="middle" fill="#262626">50</text>
<text transform="translate(566.76,244.70) scale(0.95,1)" font-size="9.2" text-anchor="middle" fill="#262626">60</text>
<text transform="translate(594.67,244.70) scale(0.95,1)" font-size="9.2" text-anchor="middle" fill="#262626">70</text>
<text transform="translate(622.58,244.70) scale(0.95,1)" font-size="9.2" text-anchor="middle" fill="#262626">80</text>
<text transform="translate(650.49,244.70) scale(0.95,1)" font-size="9.2" text-anchor="middle" fill="#262626">90</text>
<text transform="translate(678.40,244.70) scale(0.95,1)" font-size="9.2" text-anchor="middle" fill="#262626">100</text>
<text transform="translate(395.40,235.90) scale(0.95,1)" font-size="9.2" text-anchor="end" fill="#262626">0</text>
<text transform="translate(395.40,199.20) scale(0.95,1)" font-size="9.2" text-anchor="end" fill="#262626">100</text>
<text transform="translate(395.40,162.50) scale(0.95,1)" font-size="9.2" text-anchor="end" fill="#262626">200</text>
<text transform="translate(395.40,125.80) scale(0.95,1)" font-size="9.2" text-anchor="end" fill="#262626">300</text>
<text transform="translate(395.40,89.10) scale(0.95,1)" font-size="9.2" text-anchor="end" fill="#262626">400</text>
<text transform="translate(395.40,52.40) scale(0.95,1)" font-size="9.2" text-anchor="end" fill="#262626">500</text>
<text transform="translate(395.40,15.70) scale(0.95,1)" font-size="9.2" text-anchor="end" fill="#262626">600</text>
<text x="538.85" y="7.40" font-size="9.35" font-weight="bold" text-anchor="middle" fill="#000">Proposed Method</text>
<text x="538.85" y="257.00" font-size="9.9" text-anchor="middle" fill="#262626">t</text>
<text transform="translate(375.90,121.60) rotate(-90)" font-size="9.9" text-anchor="middle" fill="#262626">N(t)</text>
<rect x="613.20" y="18.40" width="58.2" height="44.6" fill="#fff" stroke="#808080" stroke-width="1.1"/>
<rect x="628.00" y="24.20" width="1.8" height="1.8" fill="#ff0000"/>
<text x="643.50" y="28.00" font-size="8.0" fill="#000">ϕ=<tspan>1.0</tspan></text>
<rect x="628.00" y="34.80" width="1.8" height="1.8" fill="#000000"/>
<text x="643.50" y="38.60" font-size="8.0" fill="#000">ϕ=<tspan>0.95</tspan></text>
<rect x="628.00" y="45.40" width="1.8" height="1.8" fill="#0000ff"/>
<text x="643.50" y="49.20" font-size="8.0" fill="#000">ϕ=<tspan>0.90</tspan></text>
<rect x="628.00" y="56.00" width="1.8" height="1.8" fill="#00ff00"/>
<text x="643.50" y="59.80" font-size="8.0" fill="#000">ϕ=<tspan>0.85</tspan></text>
<text class="sf" x="476.60" y="284.6" font-size="14.7" textLength="76.5" lengthAdjust="spacingAndGlyphs" fill="#000">(b) NK cells</text>
<text class="sf" x="557.60" y="284.6" font-size="14.7" textLength="28.7" lengthAdjust="spacingAndGlyphs" fill="#000"><tspan font-style="italic">N</tspan>(<tspan font-style="italic">t</tspan>)</text>
<clipPath id="c2"><rect x="32.4" y="310.40000000000003" width="280.40000000000003" height="221.99999999999994"/></clipPath>
<rect x="32.199999999999996" y="311.6" width="279.3" height="220.99999999999994" fill="none" stroke="#939393" stroke-width="1.3"/>
<path d="M32.40,532.4v-2.8M32.40,311.6v2.8M60.31,532.4v-2.8M60.31,311.6v2.8M88.22,532.4v-2.8M88.22,311.6v2.8M116.13,532.4v-2.8M116.13,311.6v2.8M144.04,532.4v-2.8M144.04,311.6v2.8M171.95,532.4v-2.8M171.95,311.6v2.8M199.86,532.4v-2.8M199.86,311.6v2.8M227.77,532.4v-2.8M227.77,311.6v2.8M255.68,532.4v-2.8M255.68,311.6v2.8M283.59,532.4v-2.8M283.59,311.6v2.8M311.50,532.4v-2.8M311.50,311.6v2.8M32.4,532.40h2.8M311.5,532.40h-2.8M32.4,495.60h2.8M311.5,495.60h-2.8M32.4,458.80h2.8M311.5,458.80h-2.8M32.4,422.00h2.8M311.5,422.00h-2.8M32.4,385.20h2.8M311.5,385.20h-2.8M32.4,348.40h2.8M311.5,348.40h-2.8M32.4,311.60h2.8M311.5,311.60h-2.8" stroke="#939393" stroke-width="1" fill="none"/>
<circle cx="32.90" cy="523.42" r="1.2" fill="#ff0000"/><circle cx="33.21" cy="513.22" r="1.2" fill="#ff0000"/><circle cx="33.45" cy="504.86" r="1.2" fill="#ff0000"/><circle cx="33.68" cy="498.01" r="1.2" fill="#ff0000"/><circle cx="33.93" cy="492.39" r="1.2" fill="#ff0000"/><circle cx="34.18" cy="487.78" r="1.2" fill="#ff0000"/><circle cx="34.45" cy="484.01" r="1.2" fill="#ff0000"/><circle cx="32.90" cy="522.00" r="1.2" fill="#000000"/><circle cx="33.25" cy="510.99" r="1.2" fill="#000000"/><circle cx="33.61" cy="501.97" r="1.2" fill="#000000"/><circle cx="33.99" cy="494.57" r="1.2" fill="#000000"/><circle cx="34.36" cy="488.51" r="1.2" fill="#000000"/><circle cx="32.90" cy="521.15" r="1.2" fill="#0000ff"/><circle cx="33.25" cy="509.32" r="1.2" fill="#0000ff"/><circle cx="33.69" cy="499.63" r="1.2" fill="#0000ff"/><circle cx="34.18" cy="491.69" r="1.2" fill="#0000ff"/><circle cx="32.90" cy="519.43" r="1.2" fill="#00ff00"/><circle cx="33.34" cy="506.79" r="1.2" fill="#00ff00"/><circle cx="33.84" cy="496.43" r="1.2" fill="#00ff00"/><circle cx="34.39" cy="487.95" r="1.2" fill="#00ff00"/><g clip-path="url(#c2)"><path d="M34.6,482.2 34.7,481.4 34.7,480.6 34.8,479.9 34.9,479.2 34.9,478.4 35.0,477.7 35.1,477.0 35.2,476.3 35.2,475.6 35.3,474.8 35.4,474.1 35.5,473.4 35.6,472.6 35.7,471.9 35.7,471.1 35.8,470.3 35.9,469.5 36.0,468.7 36.1,467.9 36.2,467.0 36.3,466.2 36.4,465.3 36.5,464.3 36.6,463.4 36.7,462.5 36.8,461.5 37.0,460.6 37.1,459.6 37.2,458.6 37.3,457.7 37.4,456.7 37.6,455.7 37.7,454.8 37.8,453.8 37.9,452.9 38.1,452.0 38.2,451.1 38.4,450.2 38.5,449.3 38.6,448.5 38.8,447.7 38.9,446.9 39.1,446.2 39.3,445.5 39.4,444.8 39.6,444.2 39.8,443.5 39.9,442.9 40.1,442.3 40.3,441.7 40.5,441.2 40.7,440.6 40.8,440.0 41.0,439.4 41.2,438.8 41.4,438.2 41.6,437.6 41.9,436.9 42.1,436.2 42.3,435.5 42.5,434.8 42.7,434.1 43.0,433.3 43.2,432.6 43.5,431.8 43.7,431.0 44.0,430.3 44.2,429.5 44.5,428.7 44.8,427.9 45.0,427.1 45.3,426.3 45.6,425.5 45.9,424.7 46.2,423.9 46.5,423.2 46.8,422.4 47.1,421.6 47.5,420.9 47.8,420.1 48.1,419.4 48.5,418.6 48.8,417.9 49.2,417.1 49.6,416.4 49.9,415.7 50.3,415.0 50.7,414.2 51.1,413.5 51.5,412.8 51.9,412.1 52.3,411.4 52.8,410.7 53.2,410.0 53.7,409.3 54.1,408.6 54.6,408.0 55.1,407.3 55.6,406.6 56.1,405.9 56.6,405.3 57.1,404.6 57.6,403.9 58.2,403.3 58.7,402.6 59.3,401.9 59.8,401.3 60.4,400.6 61.0,400.0 61.6,399.3 62.3,398.7 62.9,398.0 63.6,397.4 64.2,396.7 64.9,396.1 65.6,395.4 66.3,394.8 67.0,394.2 67.7,393.5 68.5,392.9 69.3,392.2 70.0,391.6 70.8,390.9 71.7,390.3 72.5,389.7 73.3,389.0 74.2,388.4 75.1,387.8 76.0,387.1 76.9,386.5 77.8,385.9 78.8,385.2 79.8,384.6 80.8,384.0 81.8,383.4 82.8,382.7 83.9,382.1 85.0,381.5 86.1,380.9 87.2,380.3 88.4,379.7 89.5,379.0 90.7,378.4 92.0,377.8 93.2,377.2 94.5,376.6 95.8,376.0 97.1,375.4 98.5,374.8 99.9,374.2 101.3,373.6 102.7,373.0 104.2,372.4 105.7,371.8 107.2,371.2 108.8,370.7 110.4,370.1 112.0,369.5 113.7,368.9 115.4,368.3 117.1,367.8 118.9,367.2 120.7,366.6 122.5,366.1 124.4,365.5 126.3,364.9 128.3,364.4 130.3,363.8 132.3,363.3 134.4,362.7 136.5,362.2 138.7,361.6 140.9,361.1 143.1,360.6 145.5,360.0 147.8,359.5 150.2,359.0 152.7,358.4 155.2,357.9 157.7,357.4 160.3,356.9 163.0,356.4 165.7,355.9 168.5,355.4 171.3,354.9 174.2,354.4 177.1,353.9 180.1,353.4 183.2,352.9 186.3,352.4 189.5,351.9 192.8,351.4 196.1,351.0 199.5,350.5 203.0,350.0 206.5,349.6 210.1,349.1 213.8,348.7 217.6,348.2 221.4,347.8 225.3,347.3 229.3,346.9 233.4,346.5 237.6,346.0 241.9,345.6 246.2,345.2 250.6,344.8 255.1,344.4 259.8,344.0 264.5,343.6 269.3,343.2 274.2,342.8 279.2,342.4 284.3,342.0 289.5,341.6 294.9,341.2 300.3,340.9 305.8,340.5 311.5,340.1" fill="none" stroke="#ff0000" stroke-width="2.4" stroke-linejoin="round"/><path d="M34.6,485.1 34.7,484.2 34.7,483.4 34.8,482.5 34.9,481.6 34.9,480.8 35.0,479.9 35.1,479.1 35.2,478.3 35.2,477.4 35.3,476.6 35.4,475.8 35.5,475.0 35.6,474.1 35.7,473.3 35.7,472.5 35.8,471.7 35.9,471.0 36.0,470.2 36.1,469.4 36.2,468.6 36.3,467.8 36.4,467.1 36.5,466.3 36.6,465.6 36.7,464.8 36.8,464.1 37.0,463.3 37.1,462.6 37.2,461.9 37.3,461.1 37.4,460.4 37.6,459.7 37.7,459.0 37.8,458.3 37.9,457.6 38.1,456.9 38.2,456.2 38.4,455.5 38.5,454.8 38.6,454.1 38.8,453.4 38.9,452.8 39.1,452.1 39.3,451.4 39.4,450.8 39.6,450.1 39.8,449.5 39.9,448.8 40.1,448.2 40.3,447.5 40.5,446.9 40.7,446.3 40.8,445.6 41.0,445.0 41.2,444.4 41.4,443.8 41.6,443.1 41.9,442.5 42.1,441.9 42.3,441.3 42.5,440.7 42.7,440.1 43.0,439.5 43.2,438.9 43.5,438.4 43.7,437.8 44.0,437.2 44.2,436.6 44.5,436.0 44.8,435.5 45.0,434.9 45.3,434.3 45.6,433.8 45.9,433.2 46.2,432.7 46.5,432.1 46.8,431.6 47.1,431.0 47.5,430.5 47.8,429.9 48.1,429.4 48.5,428.9 48.8,428.3 49.2,427.8 49.6,427.3 49.9,426.7 50.3,426.2 50.7,425.7 51.1,425.2 51.5,424.7 51.9,424.1 52.3,423.6 52.8,423.1 53.2,422.6 53.7,422.1 54.1,421.6 54.6,421.1 55.1,420.6 55.6,420.1 56.1,419.6 56.6,419.1 57.1,418.7 57.6,418.2 58.2,417.7 58.7,417.2 59.3,416.7 59.8,416.2 60.4,415.8 61.0,415.3 61.6,414.8 62.3,414.3 62.9,413.9 63.6,413.4 64.2,412.9 64.9,412.5 65.6,412.0 66.3,411.5 67.0,411.1 67.7,410.6 68.5,410.1 69.3,409.7 70.0,409.2 70.8,408.8 71.7,408.3 72.5,407.9 73.3,407.4 74.2,407.0 75.1,406.5 76.0,406.1 76.9,405.6 77.8,405.2 78.8,404.7 79.8,404.3 80.8,403.9 81.8,403.4 82.8,403.0 83.9,402.5 85.0,402.1 86.1,401.7 87.2,401.2 88.4,400.8 89.5,400.4 90.7,400.0 92.0,399.5 93.2,399.1 94.5,398.7 95.8,398.3 97.1,397.9 98.5,397.5 99.9,397.0 101.3,396.6 102.7,396.2 104.2,395.8 105.7,395.4 107.2,395.0 108.8,394.6 110.4,394.2 112.0,393.8 113.7,393.4 115.4,393.0 117.1,392.6 118.9,392.2 120.7,391.8 122.5,391.4 124.4,391.0 126.3,390.7 128.3,390.3 130.3,389.9 132.3,389.5 134.4,389.1 136.5,388.8 138.7,388.4 140.9,388.0 143.1,387.6 145.5,387.3 147.8,386.9 150.2,386.5 152.7,386.2 155.2,385.8 157.7,385.5 160.3,385.1 163.0,384.7 165.7,384.4 168.5,384.0 171.3,383.7 174.2,383.3 177.1,383.0 180.1,382.7 183.2,382.3 186.3,382.0 189.5,381.6 192.8,381.3 196.1,381.0 199.5,380.6 203.0,380.3 206.5,380.0 210.1,379.7 213.8,379.3 217.6,379.0 221.4,378.7 225.3,378.4 229.3,378.1 233.4,377.8 237.6,377.4 241.9,377.1 246.2,376.8 250.6,376.5 255.1,376.2 259.8,375.9 264.5,375.6 269.3,375.3 274.2,375.1 279.2,374.8 284.3,374.5 289.5,374.2 294.9,373.9 300.3,373.6 305.8,373.3 311.5,373.1" fill="none" stroke="#000000" stroke-width="2.4" stroke-linejoin="round"/><path d="M34.6,486.1 34.7,485.3 34.7,484.5 34.8,483.7 34.9,482.9 34.9,482.1 35.0,481.3 35.1,480.5 35.2,479.7 35.2,478.9 35.3,478.1 35.4,477.4 35.5,476.6 35.6,475.8 35.7,475.1 35.7,474.3 35.8,473.6 35.9,472.8 36.0,472.1 36.1,471.4 36.2,470.7 36.3,469.9 36.4,469.2 36.5,468.5 36.6,467.8 36.7,467.2 36.8,466.5 37.0,465.8 37.1,465.2 37.2,464.5 37.3,463.8 37.4,463.2 37.6,462.6 37.7,461.9 37.8,461.3 37.9,460.7 38.1,460.1 38.2,459.5 38.4,458.9 38.5,458.3 38.6,457.7 38.8,457.1 38.9,456.6 39.1,456.0 39.3,455.4 39.4,454.9 39.6,454.3 39.8,453.8 39.9,453.2 40.1,452.7 40.3,452.2 40.5,451.7 40.7,451.1 40.8,450.6 41.0,450.1 41.2,449.6 41.4,449.1 41.6,448.6 41.9,448.2 42.1,447.7 42.3,447.2 42.5,446.7 42.7,446.3 43.0,445.8 43.2,445.4 43.5,444.9 43.7,444.5 44.0,444.0 44.2,443.6 44.5,443.2 44.8,442.7 45.0,442.3 45.3,441.9 45.6,441.5 45.9,441.1 46.2,440.7 46.5,440.2 46.8,439.8 47.1,439.5 47.5,439.1 47.8,438.7 48.1,438.3 48.5,437.9 48.8,437.5 49.2,437.2 49.6,436.8 49.9,436.4 50.3,436.1 50.7,435.7 51.1,435.3 51.5,435.0 51.9,434.6 52.3,434.3 52.8,434.0 53.2,433.6 53.7,433.3 54.1,432.9 54.6,432.6 55.1,432.3 55.6,431.9 56.1,431.6 56.6,431.3 57.1,431.0 57.6,430.7 58.2,430.3 58.7,430.0 59.3,429.7 59.8,429.4 60.4,429.1 61.0,428.8 61.6,428.5 62.3,428.2 62.9,427.9 63.6,427.6 64.2,427.3 64.9,427.0 65.6,426.7 66.3,426.4 67.0,426.1 67.7,425.9 68.5,425.6 69.3,425.3 70.0,425.0 70.8,424.7 71.7,424.4 72.5,424.2 73.3,423.9 74.2,423.6 75.1,423.3 76.0,423.1 76.9,422.8 77.8,422.5 78.8,422.3 79.8,422.0 80.8,421.7 81.8,421.5 82.8,421.2 83.9,420.9 85.0,420.7 86.1,420.4 87.2,420.2 88.4,419.9 89.5,419.7 90.7,419.4 92.0,419.2 93.2,418.9 94.5,418.7 95.8,418.4 97.1,418.2 98.5,417.9 99.9,417.7 101.3,417.4 102.7,417.2 104.2,417.0 105.7,416.7 107.2,416.5 108.8,416.3 110.4,416.0 112.0,415.8 113.7,415.6 115.4,415.3 117.1,415.1 118.9,414.9 120.7,414.7 122.5,414.4 124.4,414.2 126.3,414.0 128.3,413.8 130.3,413.5 132.3,413.3 134.4,413.1 136.5,412.9 138.7,412.7 140.9,412.5 143.1,412.3 145.5,412.1 147.8,411.9 150.2,411.6 152.7,411.4 155.2,411.2 157.7,411.0 160.3,410.8 163.0,410.6 165.7,410.4 168.5,410.2 171.3,410.0 174.2,409.8 177.1,409.7 180.1,409.5 183.2,409.3 186.3,409.1 189.5,408.9 192.8,408.7 196.1,408.5 199.5,408.3 203.0,408.1 206.5,408.0 210.1,407.8 213.8,407.6 217.6,407.4 221.4,407.2 225.3,407.1 229.3,406.9 233.4,406.7 237.6,406.6 241.9,406.4 246.2,406.2 250.6,406.0 255.1,405.9 259.8,405.7 264.5,405.5 269.3,405.4 274.2,405.2 279.2,405.1 284.3,404.9 289.5,404.7 294.9,404.6 300.3,404.4 305.8,404.3 311.5,404.1" fill="none" stroke="#0000ff" stroke-width="2.4" stroke-linejoin="round"/><path d="M34.6,485.3 34.7,484.5 34.7,483.8 34.8,483.0 34.9,482.2 34.9,481.5 35.0,480.7 35.1,480.0 35.2,479.3 35.2,478.6 35.3,477.9 35.4,477.2 35.5,476.5 35.6,475.8 35.7,475.2 35.7,474.5 35.8,473.9 35.9,473.2 36.0,472.6 36.1,472.0 36.2,471.4 36.3,470.8 36.4,470.2 36.5,469.7 36.6,469.1 36.7,468.6 36.8,468.0 37.0,467.5 37.1,467.0 37.2,466.5 37.3,466.0 37.4,465.5 37.6,465.0 37.7,464.5 37.8,464.1 37.9,463.6 38.1,463.2 38.2,462.7 38.4,462.3 38.5,461.9 38.6,461.4 38.8,461.0 38.9,460.6 39.1,460.2 39.3,459.8 39.4,459.4 39.6,459.0 39.8,458.6 39.9,458.3 40.1,457.9 40.3,457.5 40.5,457.2 40.7,456.8 40.8,456.4 41.0,456.1 41.2,455.7 41.4,455.4 41.6,455.0 41.9,454.7 42.1,454.3 42.3,454.0 42.5,453.6 42.7,453.3 43.0,452.9 43.2,452.6 43.5,452.3 43.7,452.0 44.0,451.6 44.2,451.3 44.5,451.0 44.8,450.7 45.0,450.3 45.3,450.0 45.6,449.7 45.9,449.4 46.2,449.1 46.5,448.8 46.8,448.5 47.1,448.2 47.5,448.0 47.8,447.7 48.1,447.4 48.5,447.1 48.8,446.9 49.2,446.6 49.6,446.3 49.9,446.1 50.3,445.8 50.7,445.6 51.1,445.3 51.5,445.1 51.9,444.8 52.3,444.6 52.8,444.4 53.2,444.1 53.7,443.9 54.1,443.7 54.6,443.5 55.1,443.2 55.6,443.0 56.1,442.8 56.6,442.6 57.1,442.4 57.6,442.2 58.2,442.0 58.7,441.8 59.3,441.6 59.8,441.4 60.4,441.2 61.0,441.0 61.6,440.8 62.3,440.6 62.9,440.5 63.6,440.3 64.2,440.1 64.9,439.9 65.6,439.8 66.3,439.6 67.0,439.4 67.7,439.3 68.5,439.1 69.3,438.9 70.0,438.8 70.8,438.6 71.7,438.5 72.5,438.3 73.3,438.2 74.2,438.0 75.1,437.9 76.0,437.7 76.9,437.6 77.8,437.5 78.8,437.3 79.8,437.2 80.8,437.1 81.8,436.9 82.8,436.8 83.9,436.7 85.0,436.5 86.1,436.4 87.2,436.3 88.4,436.2 89.5,436.1 90.7,435.9 92.0,435.8 93.2,435.7 94.5,435.6 95.8,435.5 97.1,435.4 98.5,435.3 99.9,435.2 101.3,435.1 102.7,435.0 104.2,434.9 105.7,434.8 107.2,434.7 108.8,434.6 110.4,434.5 112.0,434.4 113.7,434.3 115.4,434.2 117.1,434.1 118.9,434.0 120.7,434.0 122.5,433.9 124.4,433.8 126.3,433.7 128.3,433.6 130.3,433.6 132.3,433.5 134.4,433.4 136.5,433.3 138.7,433.2 140.9,433.2 143.1,433.1 145.5,433.0 147.8,433.0 150.2,432.9 152.7,432.8 155.2,432.8 157.7,432.7 160.3,432.6 163.0,432.6 165.7,432.5 168.5,432.4 171.3,432.4 174.2,432.3 177.1,432.3 180.1,432.2 183.2,432.2 186.3,432.1 189.5,432.0 192.8,432.0 196.1,431.9 199.5,431.9 203.0,431.8 206.5,431.8 210.1,431.7 213.8,431.7 217.6,431.6 221.4,431.6 225.3,431.5 229.3,431.5 233.4,431.4 237.6,431.4 241.9,431.3 246.2,431.3 250.6,431.3 255.1,431.2 259.8,431.2 264.5,431.1 269.3,431.1 274.2,431.0 279.2,431.0 284.3,431.0 289.5,430.9 294.9,430.9 300.3,430.8 305.8,430.8 311.5,430.7" fill="none" stroke="#00ff00" stroke-width="2.4" stroke-linejoin="round"/></g><circle cx="32.90" cy="532.20" r="1.3" fill="#00ff00"/>
<text transform="translate(32.40,545.40) scale(0.95,1)" font-size="9.2" text-anchor="middle" fill="#262626">0</text>
<text transform="translate(60.31,545.40) scale(0.95,1)" font-size="9.2" text-anchor="middle" fill="#262626">10</text>
<text transform="translate(88.22,545.40) scale(0.95,1)" font-size="9.2" text-anchor="middle" fill="#262626">20</text>
<text transform="translate(116.13,545.40) scale(0.95,1)" font-size="9.2" text-anchor="middle" fill="#262626">30</text>
<text transform="translate(144.04,545.40) scale(0.95,1)" font-size="9.2" text-anchor="middle" fill="#262626">40</text>
<text transform="translate(171.95,545.40) scale(0.95,1)" font-size="9.2" text-anchor="middle" fill="#262626">50</text>
<text transform="translate(199.86,545.40) scale(0.95,1)" font-size="9.2" text-anchor="middle" fill="#262626">60</text>
<text transform="translate(227.77,545.40) scale(0.95,1)" font-size="9.2" text-anchor="middle" fill="#262626">70</text>
<text transform="translate(255.68,545.40) scale(0.95,1)" font-size="9.2" text-anchor="middle" fill="#262626">80</text>
<text transform="translate(283.59,545.40) scale(0.95,1)" font-size="9.2" text-anchor="middle" fill="#262626">90</text>
<text transform="translate(311.50,545.40) scale(0.95,1)" font-size="9.2" text-anchor="middle" fill="#262626">100</text>
<text transform="translate(28.50,536.60) scale(0.95,1)" font-size="9.2" text-anchor="end" fill="#262626">0</text>
<text transform="translate(28.50,499.80) scale(0.95,1)" font-size="9.2" text-anchor="end" fill="#262626">1</text>
<text transform="translate(28.50,463.00) scale(0.95,1)" font-size="9.2" text-anchor="end" fill="#262626">2</text>
<text transform="translate(28.50,426.20) scale(0.95,1)" font-size="9.2" text-anchor="end" fill="#262626">3</text>
<text transform="translate(28.50,389.40) scale(0.95,1)" font-size="9.2" text-anchor="end" fill="#262626">4</text>
<text transform="translate(28.50,352.60) scale(0.95,1)" font-size="9.2" text-anchor="end" fill="#262626">5</text>
<text transform="translate(28.50,315.80) scale(0.95,1)" font-size="9.2" text-anchor="end" fill="#262626">6</text>
<text transform="translate(32.60,310.80) scale(1.0,1)" font-size="10.8" text-anchor="start" fill="#262626">×</text>
<text transform="translate(39.40,309.90) scale(0.95,1)" font-size="9.2" text-anchor="start" fill="#262626">10</text>
<text transform="translate(48.80,304.80) scale(0.95,1)" font-size="6.6" text-anchor="start" fill="#262626">7</text>
<text x="171.95" y="307.50" font-size="9.35" font-weight="bold" text-anchor="middle" fill="#000">Proposed Method</text>
<text x="171.95" y="557.70" font-size="9.9" text-anchor="middle" fill="#262626">t</text>
<text transform="translate(18.50,422.00) rotate(-90)" font-size="9.9" text-anchor="middle" fill="#262626">L(t)</text>
<rect x="246.30" y="318.50" width="58.2" height="44.6" fill="#fff" stroke="#808080" stroke-width="1.1"/>
<rect x="261.10" y="324.30" width="1.8" height="1.8" fill="#ff0000"/>
<text x="276.60" y="328.10" font-size="8.0" fill="#000">ϕ=<tspan>1.0</tspan></text>
<rect x="261.10" y="334.90" width="1.8" height="1.8" fill="#000000"/>
<text x="276.60" y="338.70" font-size="8.0" fill="#000">ϕ=<tspan>0.95</tspan></text>
<rect x="261.10" y="345.50" width="1.8" height="1.8" fill="#0000ff"/>
<text x="276.60" y="349.30" font-size="8.0" fill="#000">ϕ=<tspan>0.90</tspan></text>
<rect x="261.10" y="356.10" width="1.8" height="1.8" fill="#00ff00"/>
<text x="276.60" y="359.90" font-size="8.0" fill="#000">ϕ=<tspan>0.85</tspan></text>
<text class="sf" x="103.50" y="585.6" font-size="14.7" textLength="92.5" lengthAdjust="spacingAndGlyphs" fill="#000">(c) CD8+T cell</text>
<text class="sf" x="200.80" y="585.6" font-size="14.7" textLength="25.0" lengthAdjust="spacingAndGlyphs" fill="#000"><tspan font-style="italic">L</tspan>(<tspan font-style="italic">t</tspan>)</text>
<clipPath id="c3"><rect x="399.3" y="310.40000000000003" width="280.4" height="221.99999999999994"/></clipPath>
<rect x="399.1" y="311.6" width="279.29999999999995" height="220.99999999999994" fill="none" stroke="#939393" stroke-width="1.3"/>
<path d="M399.30,532.4v-2.8M399.30,311.6v2.8M427.21,532.4v-2.8M427.21,311.6v2.8M455.12,532.4v-2.8M455.12,311.6v2.8M483.03,532.4v-2.8M483.03,311.6v2.8M510.94,532.4v-2.8M510.94,311.6v2.8M538.85,532.4v-2.8M538.85,311.6v2.8M566.76,532.4v-2.8M566.76,311.6v2.8M594.67,532.4v-2.8M594.67,311.6v2.8M622.58,532.4v-2.8M622.58,311.6v2.8M650.49,532.4v-2.8M650.49,311.6v2.8M678.40,532.4v-2.8M678.40,311.6v2.8M399.3,532.40h2.8M678.4,532.40h-2.8M399.3,510.32h2.8M678.4,510.32h-2.8M399.3,488.24h2.8M678.4,488.24h-2.8M399.3,466.16h2.8M678.4,466.16h-2.8M399.3,444.08h2.8M678.4,444.08h-2.8M399.3,422.00h2.8M678.4,422.00h-2.8M399.3,399.92h2.8M678.4,399.92h-2.8M399.3,377.84h2.8M678.4,377.84h-2.8M399.3,355.76h2.8M678.4,355.76h-2.8M399.3,333.68h2.8M678.4,333.68h-2.8M399.3,311.60h2.8M678.4,311.60h-2.8" stroke="#939393" stroke-width="1" fill="none"/>
<circle cx="400.00" cy="525.06" r="1.2" fill="#ff0000"/><circle cx="400.29" cy="514.86" r="1.2" fill="#ff0000"/><circle cx="400.57" cy="506.50" r="1.2" fill="#ff0000"/><circle cx="400.83" cy="499.65" r="1.2" fill="#ff0000"/><circle cx="401.10" cy="494.03" r="1.2" fill="#ff0000"/><circle cx="401.37" cy="489.43" r="1.2" fill="#ff0000"/><circle cx="401.63" cy="485.65" r="1.2" fill="#ff0000"/><circle cx="400.00" cy="523.26" r="1.2" fill="#000000"/><circle cx="400.36" cy="512.25" r="1.2" fill="#000000"/><circle cx="400.75" cy="503.23" r="1.2" fill="#000000"/><circle cx="401.15" cy="495.83" r="1.2" fill="#000000"/><circle cx="401.56" cy="489.77" r="1.2" fill="#000000"/><circle cx="400.00" cy="521.21" r="1.2" fill="#0000ff"/><circle cx="400.43" cy="509.39" r="1.2" fill="#0000ff"/><circle cx="400.91" cy="499.70" r="1.2" fill="#0000ff"/><circle cx="401.43" cy="491.76" r="1.2" fill="#0000ff"/><circle cx="400.00" cy="521.22" r="1.2" fill="#00ff00"/><circle cx="400.44" cy="508.58" r="1.2" fill="#00ff00"/><circle cx="400.97" cy="498.22" r="1.2" fill="#00ff00"/><circle cx="401.58" cy="489.74" r="1.2" fill="#00ff00"/><g clip-path="url(#c3)"><path d="M401.8,483.4 401.9,482.6 401.9,481.7 402.0,480.9 402.1,480.1 402.2,479.3 402.2,478.5 402.3,477.7 402.4,476.9 402.5,476.1 402.6,475.4 402.7,474.6 402.7,473.9 402.8,473.1 402.9,472.4 403.0,471.6 403.1,470.9 403.2,470.1 403.3,469.4 403.4,468.7 403.5,467.9 403.6,467.2 403.7,466.5 403.8,465.8 404.0,465.0 404.1,464.3 404.2,463.6 404.3,462.9 404.4,462.2 404.6,461.5 404.7,460.8 404.8,460.1 404.9,459.4 405.1,458.7 405.2,458.0 405.4,457.3 405.5,456.6 405.6,455.9 405.8,455.2 405.9,454.5 406.1,453.8 406.3,453.1 406.4,452.4 406.6,451.7 406.7,451.0 406.9,450.4 407.1,449.7 407.3,449.0 407.4,448.3 407.6,447.6 407.8,447.0 408.0,446.3 408.2,445.6 408.4,444.9 408.6,444.3 408.8,443.6 409.0,442.9 409.3,442.3 409.5,441.6 409.7,440.9 409.9,440.3 410.2,439.6 410.4,438.9 410.6,438.3 410.9,437.6 411.2,436.9 411.4,436.3 411.7,435.6 411.9,434.9 412.2,434.3 412.5,433.6 412.8,433.0 413.1,432.3 413.4,431.6 413.7,431.0 414.0,430.3 414.3,429.6 414.6,429.0 415.0,428.3 415.3,427.7 415.7,427.0 416.0,426.3 416.4,425.7 416.7,425.0 417.1,424.3 417.5,423.7 417.9,423.0 418.3,422.4 418.7,421.7 419.1,421.0 419.5,420.4 419.9,419.7 420.4,419.0 420.8,418.4 421.3,417.7 421.7,417.0 422.2,416.3 422.7,415.7 423.2,415.0 423.7,414.3 424.2,413.6 424.7,413.0 425.2,412.3 425.8,411.6 426.3,410.9 426.9,410.3 427.5,409.6 428.1,408.9 428.7,408.2 429.3,407.5 429.9,406.8 430.6,406.2 431.2,405.5 431.9,404.8 432.6,404.1 433.3,403.4 434.0,402.7 434.7,402.0 435.4,401.3 436.2,400.6 436.9,399.9 437.7,399.2 438.5,398.6 439.3,397.9 440.2,397.2 441.0,396.5 441.9,395.8 442.7,395.1 443.6,394.4 444.6,393.7 445.5,393.0 446.4,392.3 447.4,391.6 448.4,390.9 449.4,390.2 450.5,389.5 451.5,388.8 452.6,388.1 453.7,387.4 454.8,386.7 455.9,386.0 457.1,385.3 458.3,384.6 459.5,383.9 460.7,383.2 462.0,382.5 463.3,381.8 464.6,381.1 466.0,380.4 467.3,379.7 468.7,379.0 470.1,378.3 471.6,377.6 473.1,376.9 474.6,376.2 476.1,375.5 477.7,374.8 479.3,374.1 480.9,373.4 482.6,372.7 484.3,372.0 486.1,371.3 487.8,370.6 489.6,369.9 491.5,369.2 493.4,368.5 495.3,367.8 497.2,367.1 499.2,366.4 501.3,365.7 503.4,365.0 505.5,364.3 507.7,363.7 509.9,363.0 512.1,362.3 514.4,361.6 516.8,360.9 519.2,360.2 521.6,359.5 524.1,358.9 526.6,358.2 529.2,357.5 531.9,356.8 534.6,356.1 537.3,355.5 540.2,354.8 543.0,354.1 545.9,353.4 548.9,352.8 552.0,352.1 555.1,351.4 558.2,350.8 561.5,350.1 564.8,349.4 568.1,348.8 571.6,348.1 575.1,347.4 578.7,346.8 582.3,346.1 586.0,345.5 589.8,344.8 593.7,344.2 597.6,343.5 601.7,342.9 605.8,342.2 610.0,341.6 614.2,340.9 618.6,340.3 623.1,339.6 627.6,339.0 632.2,338.4 637.0,337.7 641.8,337.1 646.7,336.5 651.7,335.8 656.9,335.2 662.1,334.6 667.4,333.9 672.9,333.3 678.4,332.7" fill="none" stroke="#ff0000" stroke-width="2.4" stroke-linejoin="round"/><path d="M401.8,486.6 401.9,485.8 401.9,484.9 402.0,484.1 402.1,483.3 402.2,482.5 402.2,481.6 402.3,480.8 402.4,480.0 402.5,479.2 402.6,478.5 402.7,477.7 402.7,476.9 402.8,476.1 402.9,475.4 403.0,474.6 403.1,473.9 403.2,473.1 403.3,472.4 403.4,471.7 403.5,471.0 403.6,470.3 403.7,469.5 403.8,468.8 404.0,468.2 404.1,467.5 404.2,466.8 404.3,466.1 404.4,465.4 404.6,464.8 404.7,464.1 404.8,463.4 404.9,462.8 405.1,462.2 405.2,461.5 405.4,460.9 405.5,460.3 405.6,459.6 405.8,459.0 405.9,458.4 406.1,457.8 406.3,457.2 406.4,456.6 406.6,456.0 406.7,455.4 406.9,454.8 407.1,454.2 407.3,453.6 407.4,453.1 407.6,452.5 407.8,451.9 408.0,451.4 408.2,450.8 408.4,450.3 408.6,449.7 408.8,449.2 409.0,448.6 409.3,448.1 409.5,447.5 409.7,447.0 409.9,446.5 410.2,445.9 410.4,445.4 410.6,444.9 410.9,444.4 411.2,443.9 411.4,443.3 411.7,442.8 411.9,442.3 412.2,441.8 412.5,441.3 412.8,440.8 413.1,440.3 413.4,439.8 413.7,439.3 414.0,438.8 414.3,438.3 414.6,437.9 415.0,437.4 415.3,436.9 415.7,436.4 416.0,435.9 416.4,435.4 416.7,435.0 417.1,434.5 417.5,434.0 417.9,433.5 418.3,433.0 418.7,432.6 419.1,432.1 419.5,431.6 419.9,431.2 420.4,430.7 420.8,430.2 421.3,429.7 421.7,429.3 422.2,428.8 422.7,428.3 423.2,427.9 423.7,427.4 424.2,426.9 424.7,426.5 425.2,426.0 425.8,425.5 426.3,425.1 426.9,424.6 427.5,424.1 428.1,423.6 428.7,423.2 429.3,422.7 429.9,422.2 430.6,421.8 431.2,421.3 431.9,420.8 432.6,420.4 433.3,419.9 434.0,419.4 434.7,419.0 435.4,418.5 436.2,418.0 436.9,417.5 437.7,417.1 438.5,416.6 439.3,416.1 440.2,415.7 441.0,415.2 441.9,414.7 442.7,414.3 443.6,413.8 444.6,413.3 445.5,412.9 446.4,412.4 447.4,411.9 448.4,411.5 449.4,411.0 450.5,410.5 451.5,410.1 452.6,409.6 453.7,409.2 454.8,408.7 455.9,408.2 457.1,407.8 458.3,407.3 459.5,406.9 460.7,406.4 462.0,405.9 463.3,405.5 464.6,405.0 466.0,404.6 467.3,404.1 468.7,403.7 470.1,403.2 471.6,402.7 473.1,402.3 474.6,401.8 476.1,401.4 477.7,400.9 479.3,400.5 480.9,400.0 482.6,399.6 484.3,399.1 486.1,398.7 487.8,398.3 489.6,397.8 491.5,397.4 493.4,396.9 495.3,396.5 497.2,396.0 499.2,395.6 501.3,395.2 503.4,394.7 505.5,394.3 507.7,393.9 509.9,393.4 512.1,393.0 514.4,392.6 516.8,392.1 519.2,391.7 521.6,391.3 524.1,390.9 526.6,390.4 529.2,390.0 531.9,389.6 534.6,389.2 537.3,388.7 540.2,388.3 543.0,387.9 545.9,387.5 548.9,387.1 552.0,386.7 555.1,386.3 558.2,385.8 561.5,385.4 564.8,385.0 568.1,384.6 571.6,384.2 575.1,383.8 578.7,383.4 582.3,383.0 586.0,382.6 589.8,382.2 593.7,381.8 597.6,381.4 601.7,381.1 605.8,380.7 610.0,380.3 614.2,379.9 618.6,379.5 623.1,379.1 627.6,378.8 632.2,378.4 637.0,378.0 641.8,377.6 646.7,377.3 651.7,376.9 656.9,376.5 662.1,376.2 667.4,375.8 672.9,375.4 678.4,375.1" fill="none" stroke="#000000" stroke-width="2.4" stroke-linejoin="round"/><path d="M401.8,487.2 401.9,486.5 401.9,485.7 402.0,484.9 402.1,484.2 402.2,483.4 402.2,482.7 402.3,481.9 402.4,481.2 402.5,480.5 402.6,479.8 402.7,479.1 402.7,478.4 402.8,477.7 402.9,477.0 403.0,476.3 403.1,475.7 403.2,475.0 403.3,474.3 403.4,473.7 403.5,473.1 403.6,472.4 403.7,471.8 403.8,471.2 404.0,470.6 404.1,470.0 404.2,469.4 404.3,468.8 404.4,468.2 404.6,467.6 404.7,467.0 404.8,466.4 404.9,465.9 405.1,465.3 405.2,464.8 405.4,464.2 405.5,463.7 405.6,463.1 405.8,462.6 405.9,462.1 406.1,461.6 406.3,461.1 406.4,460.5 406.6,460.0 406.7,459.5 406.9,459.1 407.1,458.6 407.3,458.1 407.4,457.6 407.6,457.1 407.8,456.7 408.0,456.2 408.2,455.7 408.4,455.3 408.6,454.8 408.8,454.4 409.0,454.0 409.3,453.5 409.5,453.1 409.7,452.7 409.9,452.2 410.2,451.8 410.4,451.4 410.6,451.0 410.9,450.6 411.2,450.2 411.4,449.8 411.7,449.4 411.9,449.0 412.2,448.6 412.5,448.2 412.8,447.9 413.1,447.5 413.4,447.1 413.7,446.7 414.0,446.4 414.3,446.0 414.6,445.7 415.0,445.3 415.3,444.9 415.7,444.6 416.0,444.2 416.4,443.9 416.7,443.6 417.1,443.2 417.5,442.9 417.9,442.5 418.3,442.2 418.7,441.9 419.1,441.6 419.5,441.2 419.9,440.9 420.4,440.6 420.8,440.3 421.3,440.0 421.7,439.6 422.2,439.3 422.7,439.0 423.2,438.7 423.7,438.4 424.2,438.1 424.7,437.8 425.2,437.5 425.8,437.2 426.3,436.9 426.9,436.6 427.5,436.3 428.1,436.0 428.7,435.7 429.3,435.4 429.9,435.1 430.6,434.8 431.2,434.6 431.9,434.3 432.6,434.0 433.3,433.7 434.0,433.4 434.7,433.1 435.4,432.9 436.2,432.6 436.9,432.3 437.7,432.0 438.5,431.8 439.3,431.5 440.2,431.2 441.0,431.0 441.9,430.7 442.7,430.4 443.6,430.2 444.6,429.9 445.5,429.6 446.4,429.4 447.4,429.1 448.4,428.8 449.4,428.6 450.5,428.3 451.5,428.1 452.6,427.8 453.7,427.6 454.8,427.3 455.9,427.1 457.1,426.8 458.3,426.6 459.5,426.3 460.7,426.1 462.0,425.8 463.3,425.6 464.6,425.3 466.0,425.1 467.3,424.8 468.7,424.6 470.1,424.3 471.6,424.1 473.1,423.9 474.6,423.6 476.1,423.4 477.7,423.1 479.3,422.9 480.9,422.7 482.6,422.4 484.3,422.2 486.1,422.0 487.8,421.7 489.6,421.5 491.5,421.3 493.4,421.0 495.3,420.8 497.2,420.6 499.2,420.4 501.3,420.1 503.4,419.9 505.5,419.7 507.7,419.5 509.9,419.2 512.1,419.0 514.4,418.8 516.8,418.6 519.2,418.3 521.6,418.1 524.1,417.9 526.6,417.7 529.2,417.4 531.9,417.2 534.6,417.0 537.3,416.8 540.2,416.6 543.0,416.4 545.9,416.1 548.9,415.9 552.0,415.7 555.1,415.5 558.2,415.3 561.5,415.1 564.8,414.8 568.1,414.6 571.6,414.4 575.1,414.2 578.7,414.0 582.3,413.8 586.0,413.6 589.8,413.3 593.7,413.1 597.6,412.9 601.7,412.7 605.8,412.5 610.0,412.3 614.2,412.1 618.6,411.9 623.1,411.6 627.6,411.4 632.2,411.2 637.0,411.0 641.8,410.8 646.7,410.6 651.7,410.4 656.9,410.2 662.1,410.0 667.4,409.7 672.9,409.5 678.4,409.3" fill="none" stroke="#0000ff" stroke-width="2.4" stroke-linejoin="round"/><path d="M401.8,487.3 401.9,486.6 401.9,485.9 402.0,485.2 402.1,484.5 402.2,483.8 402.2,483.1 402.3,482.5 402.4,481.8 402.5,481.2 402.6,480.5 402.7,479.9 402.7,479.3 402.8,478.7 402.9,478.1 403.0,477.5 403.1,476.9 403.2,476.3 403.3,475.8 403.4,475.2 403.5,474.7 403.6,474.1 403.7,473.6 403.8,473.1 404.0,472.6 404.1,472.1 404.2,471.6 404.3,471.1 404.4,470.6 404.6,470.1 404.7,469.7 404.8,469.2 404.9,468.8 405.1,468.3 405.2,467.9 405.4,467.5 405.5,467.0 405.6,466.6 405.8,466.2 405.9,465.8 406.1,465.4 406.3,465.0 406.4,464.6 406.6,464.3 406.7,463.9 406.9,463.5 407.1,463.2 407.3,462.8 407.4,462.5 407.6,462.1 407.8,461.8 408.0,461.5 408.2,461.1 408.4,460.8 408.6,460.5 408.8,460.2 409.0,459.9 409.3,459.6 409.5,459.3 409.7,459.0 409.9,458.7 410.2,458.5 410.4,458.2 410.6,457.9 410.9,457.6 411.2,457.4 411.4,457.1 411.7,456.9 411.9,456.6 412.2,456.4 412.5,456.1 412.8,455.9 413.1,455.7 413.4,455.4 413.7,455.2 414.0,455.0 414.3,454.7 414.6,454.5 415.0,454.3 415.3,454.1 415.7,453.9 416.0,453.7 416.4,453.5 416.7,453.3 417.1,453.1 417.5,452.9 417.9,452.7 418.3,452.5 418.7,452.3 419.1,452.1 419.5,451.9 419.9,451.7 420.4,451.5 420.8,451.3 421.3,451.1 421.7,451.0 422.2,450.8 422.7,450.6 423.2,450.4 423.7,450.2 424.2,450.1 424.7,449.9 425.2,449.7 425.8,449.5 426.3,449.3 426.9,449.2 427.5,449.0 428.1,448.8 428.7,448.6 429.3,448.5 429.9,448.3 430.6,448.1 431.2,448.0 431.9,447.8 432.6,447.6 433.3,447.4 434.0,447.3 434.7,447.1 435.4,446.9 436.2,446.8 436.9,446.6 437.7,446.4 438.5,446.3 439.3,446.1 440.2,445.9 441.0,445.8 441.9,445.6 442.7,445.5 443.6,445.3 444.6,445.1 445.5,445.0 446.4,444.8 447.4,444.7 448.4,444.5 449.4,444.4 450.5,444.2 451.5,444.1 452.6,443.9 453.7,443.8 454.8,443.6 455.9,443.5 457.1,443.3 458.3,443.2 459.5,443.1 460.7,442.9 462.0,442.8 463.3,442.6 464.6,442.5 466.0,442.4 467.3,442.2 468.7,442.1 470.1,442.0 471.6,441.8 473.1,441.7 474.6,441.6 476.1,441.5 477.7,441.3 479.3,441.2 480.9,441.1 482.6,441.0 484.3,440.9 486.1,440.8 487.8,440.6 489.6,440.5 491.5,440.4 493.4,440.3 495.3,440.2 497.2,440.1 499.2,440.0 501.3,439.9 503.4,439.8 505.5,439.7 507.7,439.6 509.9,439.5 512.1,439.4 514.4,439.3 516.8,439.2 519.2,439.2 521.6,439.1 524.1,439.0 526.6,438.9 529.2,438.8 531.9,438.8 534.6,438.7 537.3,438.6 540.2,438.5 543.0,438.5 545.9,438.4 548.9,438.4 552.0,438.3 555.1,438.2 558.2,438.2 561.5,438.1 564.8,438.1 568.1,438.0 571.6,438.0 575.1,437.9 578.7,437.9 582.3,437.9 586.0,437.8 589.8,437.8 593.7,437.7 597.6,437.7 601.7,437.7 605.8,437.7 610.0,437.6 614.2,437.6 618.6,437.6 623.1,437.6 627.6,437.6 632.2,437.6 637.0,437.6 641.8,437.6 646.7,437.6 651.7,437.6 656.9,437.6 662.1,437.6 667.4,437.6 672.9,437.6 678.4,437.6" fill="none" stroke="#00ff00" stroke-width="2.4" stroke-linejoin="round"/></g><circle cx="399.80" cy="532.20" r="1.3" fill="#00ff00"/>
<text transform="translate(399.30,545.40) scale(0.95,1)" font-size="9.2" text-anchor="middle" fill="#262626">0</text>
<text transform="translate(427.21,545.40) scale(0.95,1)" font-size="9.2" text-anchor="middle" fill="#262626">10</text>
<text transform="translate(455.12,545.40) scale(0.95,1)" font-size="9.2" text-anchor="middle" fill="#262626">20</text>
<text transform="translate(483.03,545.40) scale(0.95,1)" font-size="9.2" text-anchor="middle" fill="#262626">30</text>
<text transform="translate(510.94,545.40) scale(0.95,1)" font-size="9.2" text-anchor="middle" fill="#262626">40</text>
<text transform="translate(538.85,545.40) scale(0.95,1)" font-size="9.2" text-anchor="middle" fill="#262626">50</text>
<text transform="translate(566.76,545.40) scale(0.95,1)" font-size="9.2" text-anchor="middle" fill="#262626">60</text>
<text transform="translate(594.67,545.40) scale(0.95,1)" font-size="9.2" text-anchor="middle" fill="#262626">70</text>
<text transform="translate(622.58,545.40) scale(0.95,1)" font-size="9.2" text-anchor="middle" fill="#262626">80</text>
<text transform="translate(650.49,545.40) scale(0.95,1)" font-size="9.2" text-anchor="middle" fill="#262626">90</text>
<text transform="translate(678.40,545.40) scale(0.95,1)" font-size="9.2" text-anchor="middle" fill="#262626">100</text>
<text transform="translate(395.40,536.60) scale(0.95,1)" font-size="9.2" text-anchor="end" fill="#262626">0</text>
<text transform="translate(395.40,514.52) scale(0.95,1)" font-size="9.2" text-anchor="end" fill="#262626">0.5</text>
<text transform="translate(395.40,492.44) scale(0.95,1)" font-size="9.2" text-anchor="end" fill="#262626">1</text>
<text transform="translate(395.40,470.36) scale(0.95,1)" font-size="9.2" text-anchor="end" fill="#262626">1.5</text>
<text transform="translate(395.40,448.28) scale(0.95,1)" font-size="9.2" text-anchor="end" fill="#262626">2</text>
<text transform="translate(395.40,426.20) scale(0.95,1)" font-size="9.2" text-anchor="end" fill="#262626">2.5</text>
<text transform="translate(395.40,404.12) scale(0.95,1)" font-size="9.2" text-anchor="end" fill="#262626">3</text>
<text transform="translate(395.40,382.04) scale(0.95,1)" font-size="9.2" text-anchor="end" fill="#262626">3.5</text>
<text transform="translate(395.40,359.96) scale(0.95,1)" font-size="9.2" text-anchor="end" fill="#262626">4</text>
<text transform="translate(395.40,337.88) scale(0.95,1)" font-size="9.2" text-anchor="end" fill="#262626">4.5</text>
<text transform="translate(395.40,315.80) scale(0.95,1)" font-size="9.2" text-anchor="end" fill="#262626">5</text>
<text transform="translate(399.50,310.80) scale(1.0,1)" font-size="10.8" text-anchor="start" fill="#262626">×</text>
<text transform="translate(406.30,309.90) scale(0.95,1)" font-size="9.2" text-anchor="start" fill="#262626">10</text>
<text transform="translate(415.70,304.80) scale(0.95,1)" font-size="6.6" text-anchor="start" fill="#262626">7</text>
<text x="538.85" y="307.50" font-size="9.35" font-weight="bold" text-anchor="middle" fill="#000">Proposed Method</text>
<text x="538.85" y="557.70" font-size="9.9" text-anchor="middle" fill="#262626">t</text>
<text transform="translate(378.20,422.00) rotate(-90)" font-size="9.9" text-anchor="middle" fill="#262626">C(t)</text>
<rect x="613.20" y="318.50" width="58.2" height="44.6" fill="#fff" stroke="#808080" stroke-width="1.1"/>
<rect x="628.00" y="324.30" width="1.8" height="1.8" fill="#ff0000"/>
<text x="643.50" y="328.10" font-size="8.0" fill="#000">ϕ=<tspan>1.0</tspan></text>
<rect x="628.00" y="334.90" width="1.8" height="1.8" fill="#000000"/>
<text x="643.50" y="338.70" font-size="8.0" fill="#000">ϕ=<tspan>0.95</tspan></text>
<rect x="628.00" y="345.50" width="1.8" height="1.8" fill="#0000ff"/>
<text x="643.50" y="349.30" font-size="8.0" fill="#000">ϕ=<tspan>0.90</tspan></text>
<rect x="628.00" y="356.10" width="1.8" height="1.8" fill="#00ff00"/>
<text x="643.50" y="359.90" font-size="8.0" fill="#000">ϕ=<tspan>0.85</tspan></text>
<text class="sf" x="424.20" y="585.6" font-size="14.7" textLength="183.2" lengthAdjust="spacingAndGlyphs" fill="#000">(d) Circulating lymphocytes</text>
<text class="sf" x="611.90" y="585.6" font-size="14.7" textLength="26.1" lengthAdjust="spacingAndGlyphs" fill="#000"><tspan font-style="italic">C</tspan>(<tspan font-style="italic">t</tspan>)</text>
<clipPath id="c4"><rect x="32.4" y="611.3" width="280.40000000000003" height="221.49999999999994"/></clipPath>
<rect x="32.199999999999996" y="612.5" width="279.3" height="220.49999999999994" fill="none" stroke="#939393" stroke-width="1.3"/>
<path d="M32.40,832.8v-2.8M32.40,612.5v2.8M60.31,832.8v-2.8M60.31,612.5v2.8M88.22,832.8v-2.8M88.22,612.5v2.8M116.13,832.8v-2.8M116.13,612.5v2.8M144.04,832.8v-2.8M144.04,612.5v2.8M171.95,832.8v-2.8M171.95,612.5v2.8M199.86,832.8v-2.8M199.86,612.5v2.8M227.77,832.8v-2.8M227.77,612.5v2.8M255.68,832.8v-2.8M255.68,612.5v2.8M283.59,832.8v-2.8M283.59,612.5v2.8M311.50,832.8v-2.8M311.50,612.5v2.8M32.4,832.80h2.8M311.5,832.80h-2.8M32.4,796.08h2.8M311.5,796.08h-2.8M32.4,759.37h2.8M311.5,759.37h-2.8M32.4,722.65h2.8M311.5,722.65h-2.8M32.4,685.93h2.8M311.5,685.93h-2.8M32.4,649.22h2.8M311.5,649.22h-2.8M32.4,612.50h2.8M311.5,612.50h-2.8" stroke="#939393" stroke-width="1" fill="none"/>
<circle cx="32.90" cy="823.93" r="1.2" fill="#ff0000"/><circle cx="33.13" cy="813.73" r="1.2" fill="#ff0000"/><circle cx="33.38" cy="805.37" r="1.2" fill="#ff0000"/><circle cx="33.66" cy="798.52" r="1.2" fill="#ff0000"/><circle cx="33.94" cy="792.90" r="1.2" fill="#ff0000"/><circle cx="34.23" cy="788.30" r="1.2" fill="#ff0000"/><circle cx="34.51" cy="784.53" r="1.2" fill="#ff0000"/><circle cx="32.90" cy="823.25" r="1.2" fill="#000000"/><circle cx="33.20" cy="812.24" r="1.2" fill="#000000"/><circle cx="33.52" cy="803.21" r="1.2" fill="#000000"/><circle cx="33.86" cy="795.81" r="1.2" fill="#000000"/><circle cx="34.22" cy="789.75" r="1.2" fill="#000000"/><circle cx="34.58" cy="784.78" r="1.2" fill="#000000"/><circle cx="32.90" cy="821.80" r="1.2" fill="#0000ff"/><circle cx="33.25" cy="809.97" r="1.2" fill="#0000ff"/><circle cx="33.66" cy="800.28" r="1.2" fill="#0000ff"/><circle cx="34.12" cy="792.34" r="1.2" fill="#0000ff"/><circle cx="32.90" cy="820.41" r="1.2" fill="#00ff00"/><circle cx="33.35" cy="807.77" r="1.2" fill="#00ff00"/><circle cx="33.85" cy="797.41" r="1.2" fill="#00ff00"/><circle cx="34.42" cy="788.93" r="1.2" fill="#00ff00"/><g clip-path="url(#c4)"><path d="M34.6,783.5 34.7,782.7 34.7,781.9 34.8,781.1 34.9,780.3 34.9,779.5 35.0,778.8 35.1,778.0 35.2,777.2 35.2,776.4 35.3,775.6 35.4,774.8 35.5,774.0 35.6,773.2 35.7,772.4 35.7,771.6 35.8,770.8 35.9,769.9 36.0,769.1 36.1,768.2 36.2,767.4 36.3,766.5 36.4,765.6 36.5,764.8 36.6,763.9 36.7,763.0 36.8,762.2 37.0,761.3 37.1,760.4 37.2,759.6 37.3,758.7 37.4,757.9 37.6,757.0 37.7,756.2 37.8,755.4 37.9,754.5 38.1,753.7 38.2,752.9 38.4,752.1 38.5,751.3 38.6,750.5 38.8,749.8 38.9,749.0 39.1,748.3 39.3,747.5 39.4,746.8 39.6,746.1 39.8,745.4 39.9,744.7 40.1,744.0 40.3,743.3 40.5,742.6 40.7,741.9 40.8,741.3 41.0,740.6 41.2,739.9 41.4,739.2 41.6,738.5 41.9,737.8 42.1,737.1 42.3,736.4 42.5,735.7 42.7,735.0 43.0,734.3 43.2,733.6 43.5,732.8 43.7,732.1 44.0,731.4 44.2,730.6 44.5,729.9 44.8,729.2 45.0,728.4 45.3,727.7 45.6,726.9 45.9,726.2 46.2,725.4 46.5,724.7 46.8,723.9 47.1,723.2 47.5,722.4 47.8,721.6 48.1,720.9 48.5,720.1 48.8,719.4 49.2,718.6 49.6,717.8 49.9,717.1 50.3,716.3 50.7,715.5 51.1,714.8 51.5,714.0 51.9,713.2 52.3,712.5 52.8,711.7 53.2,711.0 53.7,710.2 54.1,709.4 54.6,708.7 55.1,707.9 55.6,707.2 56.1,706.4 56.6,705.7 57.1,704.9 57.6,704.2 58.2,703.5 58.7,702.7 59.3,702.0 59.8,701.2 60.4,700.5 61.0,699.8 61.6,699.1 62.3,698.3 62.9,697.6 63.6,696.9 64.2,696.1 64.9,695.4 65.6,694.7 66.3,694.0 67.0,693.3 67.7,692.5 68.5,691.8 69.3,691.1 70.0,690.4 70.8,689.7 71.7,689.0 72.5,688.2 73.3,687.5 74.2,686.8 75.1,686.1 76.0,685.4 76.9,684.7 77.8,684.0 78.8,683.2 79.8,682.5 80.8,681.8 81.8,681.1 82.8,680.4 83.9,679.7 85.0,678.9 86.1,678.2 87.2,677.5 88.4,676.8 89.5,676.1 90.7,675.3 92.0,674.6 93.2,673.9 94.5,673.2 95.8,672.4 97.1,671.7 98.5,671.0 99.9,670.3 101.3,669.5 102.7,668.8 104.2,668.1 105.7,667.3 107.2,666.6 108.8,665.8 110.4,665.1 112.0,664.3 113.7,663.6 115.4,662.8 117.1,662.1 118.9,661.3 120.7,660.6 122.5,659.8 124.4,659.1 126.3,658.3 128.3,657.5 130.3,656.7 132.3,656.0 134.4,655.2 136.5,654.4 138.7,653.6 140.9,652.8 143.1,652.0 145.5,651.3 147.8,650.5 150.2,649.7 152.7,648.8 155.2,648.0 157.7,647.2 160.3,646.4 163.0,645.6 165.7,644.8 168.5,644.0 171.3,643.2 174.2,642.4 177.1,641.6 180.1,640.8 183.2,640.0 186.3,639.2 189.5,638.4 192.8,637.6 196.1,636.8 199.5,636.0 203.0,635.3 206.5,634.5 210.1,633.7 213.8,633.0 217.6,632.2 221.4,631.5 225.3,630.8 229.3,630.0 233.4,629.3 237.6,628.6 241.9,627.9 246.2,627.2 250.6,626.6 255.1,625.9 259.8,625.2 264.5,624.6 269.3,624.0 274.2,623.3 279.2,622.7 284.3,622.2 289.5,621.6 294.9,621.0 300.3,620.5 305.8,620.0 311.5,619.4" fill="none" stroke="#ff0000" stroke-width="2.4" stroke-linejoin="round"/><path d="M34.6,784.6 34.7,783.8 34.7,783.0 34.8,782.2 34.9,781.4 34.9,780.6 35.0,779.9 35.1,779.1 35.2,778.4 35.2,777.6 35.3,776.9 35.4,776.1 35.5,775.4 35.6,774.6 35.7,773.9 35.7,773.2 35.8,772.4 35.9,771.7 36.0,771.0 36.1,770.3 36.2,769.5 36.3,768.8 36.4,768.1 36.5,767.4 36.6,766.6 36.7,765.9 36.8,765.2 37.0,764.5 37.1,763.8 37.2,763.1 37.3,762.4 37.4,761.7 37.6,761.0 37.7,760.3 37.8,759.6 37.9,758.9 38.1,758.2 38.2,757.5 38.4,756.8 38.5,756.1 38.6,755.5 38.8,754.8 38.9,754.1 39.1,753.4 39.3,752.8 39.4,752.1 39.6,751.4 39.8,750.8 39.9,750.1 40.1,749.5 40.3,748.8 40.5,748.2 40.7,747.6 40.8,746.9 41.0,746.3 41.2,745.7 41.4,745.0 41.6,744.4 41.9,743.8 42.1,743.2 42.3,742.6 42.5,742.0 42.7,741.4 43.0,740.8 43.2,740.2 43.5,739.6 43.7,739.1 44.0,738.5 44.2,737.9 44.5,737.3 44.8,736.8 45.0,736.2 45.3,735.6 45.6,735.1 45.9,734.5 46.2,733.9 46.5,733.4 46.8,732.8 47.1,732.3 47.5,731.7 47.8,731.2 48.1,730.6 48.5,730.1 48.8,729.5 49.2,729.0 49.6,728.4 49.9,727.9 50.3,727.4 50.7,726.8 51.1,726.3 51.5,725.7 51.9,725.2 52.3,724.6 52.8,724.1 53.2,723.6 53.7,723.0 54.1,722.5 54.6,722.0 55.1,721.4 55.6,720.9 56.1,720.4 56.6,719.8 57.1,719.3 57.6,718.8 58.2,718.2 58.7,717.7 59.3,717.2 59.8,716.6 60.4,716.1 61.0,715.6 61.6,715.1 62.3,714.5 62.9,714.0 63.6,713.5 64.2,713.0 64.9,712.5 65.6,711.9 66.3,711.4 67.0,710.9 67.7,710.4 68.5,709.9 69.3,709.4 70.0,708.8 70.8,708.3 71.7,707.8 72.5,707.3 73.3,706.8 74.2,706.3 75.1,705.8 76.0,705.3 76.9,704.8 77.8,704.3 78.8,703.8 79.8,703.3 80.8,702.8 81.8,702.3 82.8,701.8 83.9,701.3 85.0,700.8 86.1,700.3 87.2,699.8 88.4,699.3 89.5,698.8 90.7,698.3 92.0,697.8 93.2,697.3 94.5,696.8 95.8,696.4 97.1,695.9 98.5,695.4 99.9,694.9 101.3,694.4 102.7,693.9 104.2,693.5 105.7,693.0 107.2,692.5 108.8,692.0 110.4,691.6 112.0,691.1 113.7,690.6 115.4,690.2 117.1,689.7 118.9,689.2 120.7,688.7 122.5,688.3 124.4,687.8 126.3,687.4 128.3,686.9 130.3,686.4 132.3,686.0 134.4,685.5 136.5,685.1 138.7,684.6 140.9,684.2 143.1,683.7 145.5,683.2 147.8,682.8 150.2,682.3 152.7,681.9 155.2,681.5 157.7,681.0 160.3,680.6 163.0,680.1 165.7,679.7 168.5,679.3 171.3,678.8 174.2,678.4 177.1,677.9 180.1,677.5 183.2,677.1 186.3,676.6 189.5,676.2 192.8,675.8 196.1,675.4 199.5,674.9 203.0,674.5 206.5,674.1 210.1,673.7 213.8,673.3 217.6,672.8 221.4,672.4 225.3,672.0 229.3,671.6 233.4,671.2 237.6,670.8 241.9,670.4 246.2,670.0 250.6,669.6 255.1,669.2 259.8,668.8 264.5,668.4 269.3,668.0 274.2,667.6 279.2,667.2 284.3,666.8 289.5,666.4 294.9,666.0 300.3,665.6 305.8,665.2 311.5,664.8" fill="none" stroke="#000000" stroke-width="2.4" stroke-linejoin="round"/><path d="M34.6,786.1 34.7,785.3 34.7,784.6 34.8,783.8 34.9,783.1 34.9,782.3 35.0,781.6 35.1,780.9 35.2,780.1 35.2,779.4 35.3,778.7 35.4,778.0 35.5,777.2 35.6,776.5 35.7,775.8 35.7,775.1 35.8,774.4 35.9,773.7 36.0,772.9 36.1,772.2 36.2,771.5 36.3,770.8 36.4,770.0 36.5,769.3 36.6,768.6 36.7,767.9 36.8,767.2 37.0,766.5 37.1,765.8 37.2,765.0 37.3,764.4 37.4,763.7 37.6,763.0 37.7,762.3 37.8,761.6 37.9,761.0 38.1,760.3 38.2,759.7 38.4,759.0 38.5,758.4 38.6,757.8 38.8,757.2 38.9,756.6 39.1,756.0 39.3,755.5 39.4,754.9 39.6,754.4 39.8,753.8 39.9,753.3 40.1,752.8 40.3,752.3 40.5,751.8 40.7,751.4 40.8,750.9 41.0,750.4 41.2,750.0 41.4,749.5 41.6,749.1 41.9,748.6 42.1,748.2 42.3,747.8 42.5,747.4 42.7,746.9 43.0,746.5 43.2,746.1 43.5,745.7 43.7,745.3 44.0,744.9 44.2,744.5 44.5,744.1 44.8,743.7 45.0,743.3 45.3,742.9 45.6,742.5 45.9,742.2 46.2,741.8 46.5,741.4 46.8,741.0 47.1,740.7 47.5,740.3 47.8,739.9 48.1,739.6 48.5,739.2 48.8,738.8 49.2,738.5 49.6,738.1 49.9,737.8 50.3,737.4 50.7,737.0 51.1,736.7 51.5,736.3 51.9,736.0 52.3,735.6 52.8,735.3 53.2,734.9 53.7,734.6 54.1,734.2 54.6,733.9 55.1,733.5 55.6,733.2 56.1,732.8 56.6,732.5 57.1,732.1 57.6,731.8 58.2,731.5 58.7,731.1 59.3,730.8 59.8,730.5 60.4,730.1 61.0,729.8 61.6,729.5 62.3,729.1 62.9,728.8 63.6,728.5 64.2,728.1 64.9,727.8 65.6,727.5 66.3,727.2 67.0,726.8 67.7,726.5 68.5,726.2 69.3,725.9 70.0,725.6 70.8,725.2 71.7,724.9 72.5,724.6 73.3,724.3 74.2,724.0 75.1,723.7 76.0,723.4 76.9,723.1 77.8,722.7 78.8,722.4 79.8,722.1 80.8,721.8 81.8,721.5 82.8,721.2 83.9,720.9 85.0,720.6 86.1,720.3 87.2,720.1 88.4,719.8 89.5,719.5 90.7,719.2 92.0,718.9 93.2,718.6 94.5,718.3 95.8,718.0 97.1,717.8 98.5,717.5 99.9,717.2 101.3,716.9 102.7,716.6 104.2,716.4 105.7,716.1 107.2,715.8 108.8,715.6 110.4,715.3 112.0,715.0 113.7,714.8 115.4,714.5 117.1,714.2 118.9,714.0 120.7,713.7 122.5,713.5 124.4,713.2 126.3,712.9 128.3,712.7 130.3,712.4 132.3,712.2 134.4,711.9 136.5,711.7 138.7,711.4 140.9,711.2 143.1,711.0 145.5,710.7 147.8,710.5 150.2,710.3 152.7,710.0 155.2,709.8 157.7,709.6 160.3,709.3 163.0,709.1 165.7,708.9 168.5,708.6 171.3,708.4 174.2,708.2 177.1,708.0 180.1,707.8 183.2,707.6 186.3,707.3 189.5,707.1 192.8,706.9 196.1,706.7 199.5,706.5 203.0,706.3 206.5,706.1 210.1,705.9 213.8,705.7 217.6,705.5 221.4,705.3 225.3,705.1 229.3,704.9 233.4,704.7 237.6,704.5 241.9,704.4 246.2,704.2 250.6,704.0 255.1,703.8 259.8,703.6 264.5,703.5 269.3,703.3 274.2,703.1 279.2,702.9 284.3,702.8 289.5,702.6 294.9,702.4 300.3,702.3 305.8,702.1 311.5,702.0" fill="none" stroke="#0000ff" stroke-width="2.4" stroke-linejoin="round"/><path d="M34.6,786.7 34.7,785.9 34.7,785.2 34.8,784.4 34.9,783.7 34.9,783.0 35.0,782.2 35.1,781.5 35.2,780.8 35.2,780.1 35.3,779.4 35.4,778.7 35.5,778.0 35.6,777.4 35.7,776.7 35.7,776.0 35.8,775.4 35.9,774.7 36.0,774.1 36.1,773.4 36.2,772.8 36.3,772.2 36.4,771.6 36.5,771.0 36.6,770.4 36.7,769.8 36.8,769.3 37.0,768.7 37.1,768.2 37.2,767.6 37.3,767.1 37.4,766.6 37.6,766.1 37.7,765.6 37.8,765.1 37.9,764.6 38.1,764.1 38.2,763.7 38.4,763.2 38.5,762.8 38.6,762.3 38.8,761.9 38.9,761.5 39.1,761.1 39.3,760.6 39.4,760.2 39.6,759.8 39.8,759.5 39.9,759.1 40.1,758.7 40.3,758.3 40.5,758.0 40.7,757.6 40.8,757.2 41.0,756.9 41.2,756.5 41.4,756.2 41.6,755.9 41.9,755.5 42.1,755.2 42.3,754.9 42.5,754.6 42.7,754.3 43.0,753.9 43.2,753.6 43.5,753.3 43.7,753.0 44.0,752.7 44.2,752.4 44.5,752.1 44.8,751.8 45.0,751.5 45.3,751.2 45.6,751.0 45.9,750.7 46.2,750.4 46.5,750.1 46.8,749.8 47.1,749.5 47.5,749.2 47.8,749.0 48.1,748.7 48.5,748.4 48.8,748.1 49.2,747.8 49.6,747.6 49.9,747.3 50.3,747.0 50.7,746.8 51.1,746.5 51.5,746.2 51.9,746.0 52.3,745.7 52.8,745.5 53.2,745.2 53.7,745.0 54.1,744.7 54.6,744.5 55.1,744.2 55.6,744.0 56.1,743.8 56.6,743.5 57.1,743.3 57.6,743.1 58.2,742.9 58.7,742.7 59.3,742.5 59.8,742.2 60.4,742.0 61.0,741.8 61.6,741.6 62.3,741.4 62.9,741.2 63.6,741.1 64.2,740.9 64.9,740.7 65.6,740.5 66.3,740.3 67.0,740.1 67.7,740.0 68.5,739.8 69.3,739.6 70.0,739.5 70.8,739.3 71.7,739.1 72.5,739.0 73.3,738.8 74.2,738.7 75.1,738.5 76.0,738.4 76.9,738.2 77.8,738.1 78.8,738.0 79.8,737.8 80.8,737.7 81.8,737.6 82.8,737.4 83.9,737.3 85.0,737.2 86.1,737.0 87.2,736.9 88.4,736.8 89.5,736.7 90.7,736.6 92.0,736.5 93.2,736.3 94.5,736.2 95.8,736.1 97.1,736.0 98.5,735.9 99.9,735.8 101.3,735.7 102.7,735.6 104.2,735.5 105.7,735.4 107.2,735.3 108.8,735.2 110.4,735.1 112.0,735.0 113.7,734.9 115.4,734.8 117.1,734.8 118.9,734.7 120.7,734.6 122.5,734.5 124.4,734.4 126.3,734.3 128.3,734.3 130.3,734.2 132.3,734.1 134.4,734.0 136.5,733.9 138.7,733.9 140.9,733.8 143.1,733.7 145.5,733.6 147.8,733.6 150.2,733.5 152.7,733.4 155.2,733.4 157.7,733.3 160.3,733.2 163.0,733.2 165.7,733.1 168.5,733.0 171.3,733.0 174.2,732.9 177.1,732.8 180.1,732.8 183.2,732.7 186.3,732.6 189.5,732.6 192.8,732.5 196.1,732.4 199.5,732.4 203.0,732.3 206.5,732.2 210.1,732.2 213.8,732.1 217.6,732.0 221.4,732.0 225.3,731.9 229.3,731.8 233.4,731.8 237.6,731.7 241.9,731.6 246.2,731.6 250.6,731.5 255.1,731.4 259.8,731.4 264.5,731.3 269.3,731.2 274.2,731.2 279.2,731.1 284.3,731.0 289.5,731.0 294.9,730.9 300.3,730.8 305.8,730.7 311.5,730.7" fill="none" stroke="#00ff00" stroke-width="2.4" stroke-linejoin="round"/></g><circle cx="33.00" cy="832.50" r="1.3" fill="#00ff00"/>
<text transform="translate(32.40,845.80) scale(0.95,1)" font-size="9.2" text-anchor="middle" fill="#262626">0</text>
<text transform="translate(60.31,845.80) scale(0.95,1)" font-size="9.2" text-anchor="middle" fill="#262626">10</text>
<text transform="translate(88.22,845.80) scale(0.95,1)" font-size="9.2" text-anchor="middle" fill="#262626">20</text>
<text transform="translate(116.13,845.80) scale(0.95,1)" font-size="9.2" text-anchor="middle" fill="#262626">30</text>
<text transform="translate(144.04,845.80) scale(0.95,1)" font-size="9.2" text-anchor="middle" fill="#262626">40</text>
<text transform="translate(171.95,845.80) scale(0.95,1)" font-size="9.2" text-anchor="middle" fill="#262626">50</text>
<text transform="translate(199.86,845.80) scale(0.95,1)" font-size="9.2" text-anchor="middle" fill="#262626">60</text>
<text transform="translate(227.77,845.80) scale(0.95,1)" font-size="9.2" text-anchor="middle" fill="#262626">70</text>
<text transform="translate(255.68,845.80) scale(0.95,1)" font-size="9.2" text-anchor="middle" fill="#262626">80</text>
<text transform="translate(283.59,845.80) scale(0.95,1)" font-size="9.2" text-anchor="middle" fill="#262626">90</text>
<text transform="translate(311.50,845.80) scale(0.95,1)" font-size="9.2" text-anchor="middle" fill="#262626">100</text>
<text transform="translate(28.50,837.00) scale(0.95,1)" font-size="9.2" text-anchor="end" fill="#262626">0.1</text>
<text transform="translate(28.50,800.28) scale(0.95,1)" font-size="9.2" text-anchor="end" fill="#262626">0.15</text>
<text transform="translate(28.50,763.57) scale(0.95,1)" font-size="9.2" text-anchor="end" fill="#262626">0.2</text>
<text transform="translate(28.50,726.85) scale(0.95,1)" font-size="9.2" text-anchor="end" fill="#262626">0.25</text>
<text transform="translate(28.50,690.13) scale(0.95,1)" font-size="9.2" text-anchor="end" fill="#262626">0.3</text>
<text transform="translate(28.50,653.42) scale(0.95,1)" font-size="9.2" text-anchor="end" fill="#262626">0.35</text>
<text transform="translate(28.50,616.70) scale(0.95,1)" font-size="9.2" text-anchor="end" fill="#262626">0.4</text>
<text x="171.95" y="608.40" font-size="9.35" font-weight="bold" text-anchor="middle" fill="#000">Proposed Method</text>
<text x="171.95" y="858.10" font-size="9.9" text-anchor="middle" fill="#262626">t</text>
<text transform="translate(6.70,722.65) rotate(-90)" font-size="9.9" text-anchor="middle" fill="#262626">M(t)</text>
<rect x="246.30" y="619.40" width="58.2" height="44.6" fill="#fff" stroke="#808080" stroke-width="1.1"/>
<rect x="261.10" y="625.20" width="1.8" height="1.8" fill="#ff0000"/>
<text x="276.60" y="629.00" font-size="8.0" fill="#000">ϕ=<tspan>1.0</tspan></text>
<rect x="261.10" y="635.80" width="1.8" height="1.8" fill="#000000"/>
<text x="276.60" y="639.60" font-size="8.0" fill="#000">ϕ=<tspan>0.95</tspan></text>
<rect x="261.10" y="646.40" width="1.8" height="1.8" fill="#0000ff"/>
<text x="276.60" y="650.20" font-size="8.0" fill="#000">ϕ=<tspan>0.90</tspan></text>
<rect x="261.10" y="657.00" width="1.8" height="1.8" fill="#00ff00"/>
<text x="276.60" y="660.80" font-size="8.0" fill="#000">ϕ=<tspan>0.85</tspan></text>
<text class="sf" x="70.20" y="885.7" font-size="14.7" textLength="152.4" lengthAdjust="spacingAndGlyphs" fill="#000">(e) Chemotherapy drug</text>
<text class="sf" x="227.70" y="885.7" font-size="14.7" textLength="31.4" lengthAdjust="spacingAndGlyphs" fill="#000"><tspan font-style="italic">M</tspan>(<tspan font-style="italic">t</tspan>)</text>
<clipPath id="c5"><rect x="399.3" y="611.3" width="280.4" height="221.49999999999994"/></clipPath>
<rect x="399.1" y="612.5" width="279.29999999999995" height="220.49999999999994" fill="none" stroke="#939393" stroke-width="1.3"/>
<path d="M399.30,832.8v-2.8M399.30,612.5v2.8M427.21,832.8v-2.8M427.21,612.5v2.8M455.12,832.8v-2.8M455.12,612.5v2.8M483.03,832.8v-2.8M483.03,612.5v2.8M510.94,832.8v-2.8M510.94,612.5v2.8M538.85,832.8v-2.8M538.85,612.5v2.8M566.76,832.8v-2.8M566.76,612.5v2.8M594.67,832.8v-2.8M594.67,612.5v2.8M622.58,832.8v-2.8M622.58,612.5v2.8M650.49,832.8v-2.8M650.49,612.5v2.8M678.40,832.8v-2.8M678.40,612.5v2.8M399.3,832.80h2.8M678.4,832.80h-2.8M399.3,788.74h2.8M678.4,788.74h-2.8M399.3,744.68h2.8M678.4,744.68h-2.8M399.3,700.62h2.8M678.4,700.62h-2.8M399.3,656.56h2.8M678.4,656.56h-2.8M399.3,612.50h2.8M678.4,612.50h-2.8" stroke="#939393" stroke-width="1" fill="none"/>
<circle cx="400.00" cy="821.34" r="1.2" fill="#ff0000"/><circle cx="400.23" cy="811.14" r="1.2" fill="#ff0000"/><circle cx="400.49" cy="802.78" r="1.2" fill="#ff0000"/><circle cx="400.77" cy="795.93" r="1.2" fill="#ff0000"/><circle cx="401.05" cy="790.31" r="1.2" fill="#ff0000"/><circle cx="401.33" cy="785.71" r="1.2" fill="#ff0000"/><circle cx="401.58" cy="781.94" r="1.2" fill="#ff0000"/><circle cx="400.00" cy="820.85" r="1.2" fill="#000000"/><circle cx="400.30" cy="809.84" r="1.2" fill="#000000"/><circle cx="400.62" cy="800.81" r="1.2" fill="#000000"/><circle cx="400.97" cy="793.41" r="1.2" fill="#000000"/><circle cx="401.32" cy="787.35" r="1.2" fill="#000000"/><circle cx="401.66" cy="782.38" r="1.2" fill="#000000"/><circle cx="400.00" cy="819.26" r="1.2" fill="#0000ff"/><circle cx="400.30" cy="807.43" r="1.2" fill="#0000ff"/><circle cx="400.67" cy="797.73" r="1.2" fill="#0000ff"/><circle cx="401.13" cy="789.79" r="1.2" fill="#0000ff"/><circle cx="401.65" cy="783.29" r="1.2" fill="#0000ff"/><circle cx="400.00" cy="817.93" r="1.2" fill="#00ff00"/><circle cx="400.37" cy="805.29" r="1.2" fill="#00ff00"/><circle cx="400.82" cy="794.93" r="1.2" fill="#00ff00"/><circle cx="401.43" cy="786.44" r="1.2" fill="#00ff00"/><g clip-path="url(#c5)"><path d="M401.8,779.0 401.9,778.1 401.9,777.2 402.0,776.3 402.1,775.3 402.2,774.4 402.2,773.5 402.3,772.6 402.4,771.7 402.5,770.8 402.6,769.8 402.7,768.9 402.7,768.0 402.8,767.1 402.9,766.2 403.0,765.2 403.1,764.3 403.2,763.4 403.3,762.5 403.4,761.6 403.5,760.6 403.6,759.7 403.7,758.8 403.8,757.9 404.0,757.0 404.1,756.1 404.2,755.2 404.3,754.3 404.4,753.4 404.6,752.5 404.7,751.6 404.8,750.7 404.9,749.8 405.1,748.9 405.2,748.1 405.4,747.2 405.5,746.3 405.6,745.5 405.8,744.6 405.9,743.8 406.1,743.0 406.3,742.1 406.4,741.3 406.6,740.5 406.7,739.7 406.9,738.9 407.1,738.1 407.3,737.3 407.4,736.6 407.6,735.8 407.8,735.0 408.0,734.3 408.2,733.5 408.4,732.8 408.6,732.0 408.8,731.3 409.0,730.5 409.3,729.8 409.5,729.1 409.7,728.3 409.9,727.6 410.2,726.9 410.4,726.1 410.6,725.4 410.9,724.7 411.2,723.9 411.4,723.2 411.7,722.5 411.9,721.8 412.2,721.0 412.5,720.3 412.8,719.6 413.1,718.9 413.4,718.2 413.7,717.5 414.0,716.7 414.3,716.0 414.6,715.3 415.0,714.6 415.3,713.9 415.7,713.2 416.0,712.5 416.4,711.8 416.7,711.1 417.1,710.4 417.5,709.7 417.9,709.0 418.3,708.3 418.7,707.6 419.1,706.9 419.5,706.3 419.9,705.6 420.4,704.9 420.8,704.2 421.3,703.5 421.7,702.9 422.2,702.2 422.7,701.5 423.2,700.9 423.7,700.2 424.2,699.5 424.7,698.9 425.2,698.2 425.8,697.5 426.3,696.9 426.9,696.2 427.5,695.6 428.1,694.9 428.7,694.3 429.3,693.6 429.9,693.0 430.6,692.4 431.2,691.7 431.9,691.1 432.6,690.5 433.3,689.8 434.0,689.2 434.7,688.6 435.4,687.9 436.2,687.3 436.9,686.7 437.7,686.1 438.5,685.5 439.3,684.8 440.2,684.2 441.0,683.6 441.9,683.0 442.7,682.4 443.6,681.8 444.6,681.2 445.5,680.6 446.4,680.0 447.4,679.4 448.4,678.8 449.4,678.2 450.5,677.6 451.5,677.0 452.6,676.4 453.7,675.8 454.8,675.2 455.9,674.6 457.1,674.0 458.3,673.5 459.5,672.9 460.7,672.3 462.0,671.7 463.3,671.1 464.6,670.6 466.0,670.0 467.3,669.4 468.7,668.8 470.1,668.3 471.6,667.7 473.1,667.1 474.6,666.6 476.1,666.0 477.7,665.4 479.3,664.9 480.9,664.3 482.6,663.8 484.3,663.2 486.1,662.6 487.8,662.1 489.6,661.5 491.5,661.0 493.4,660.4 495.3,659.9 497.2,659.3 499.2,658.8 501.3,658.2 503.4,657.7 505.5,657.1 507.7,656.6 509.9,656.0 512.1,655.5 514.4,654.9 516.8,654.4 519.2,653.8 521.6,653.3 524.1,652.8 526.6,652.2 529.2,651.7 531.9,651.1 534.6,650.6 537.3,650.1 540.2,649.5 543.0,649.0 545.9,648.5 548.9,647.9 552.0,647.4 555.1,646.9 558.2,646.3 561.5,645.8 564.8,645.3 568.1,644.8 571.6,644.2 575.1,643.7 578.7,643.2 582.3,642.7 586.0,642.1 589.8,641.6 593.7,641.1 597.6,640.6 601.7,640.0 605.8,639.5 610.0,639.0 614.2,638.5 618.6,638.0 623.1,637.5 627.6,637.0 632.2,636.4 637.0,635.9 641.8,635.4 646.7,634.9 651.7,634.4 656.9,633.9 662.1,633.4 667.4,632.9 672.9,632.4 678.4,631.9" fill="none" stroke="#ff0000" stroke-width="2.4" stroke-linejoin="round"/><path d="M401.8,780.6 401.9,779.7 401.9,778.8 402.0,778.0 402.1,777.1 402.2,776.3 402.2,775.4 402.3,774.6 402.4,773.7 402.5,772.9 402.6,772.1 402.7,771.2 402.7,770.4 402.8,769.6 402.9,768.8 403.0,768.0 403.1,767.2 403.2,766.3 403.3,765.5 403.4,764.7 403.5,763.9 403.6,763.1 403.7,762.3 403.8,761.5 404.0,760.7 404.1,759.8 404.2,759.0 404.3,758.2 404.4,757.4 404.6,756.6 404.7,755.8 404.8,755.0 404.9,754.2 405.1,753.4 405.2,752.7 405.4,751.9 405.5,751.1 405.6,750.3 405.8,749.5 405.9,748.8 406.1,748.0 406.3,747.2 406.4,746.5 406.6,745.7 406.7,745.0 406.9,744.3 407.1,743.5 407.3,742.8 407.4,742.1 407.6,741.4 407.8,740.7 408.0,740.0 408.2,739.3 408.4,738.6 408.6,737.9 408.8,737.2 409.0,736.6 409.3,735.9 409.5,735.3 409.7,734.6 409.9,734.0 410.2,733.4 410.4,732.8 410.6,732.2 410.9,731.6 411.2,731.0 411.4,730.4 411.7,729.8 411.9,729.2 412.2,728.7 412.5,728.1 412.8,727.6 413.1,727.0 413.4,726.5 413.7,726.0 414.0,725.4 414.3,724.9 414.6,724.4 415.0,723.9 415.3,723.4 415.7,722.9 416.0,722.4 416.4,721.9 416.7,721.4 417.1,720.9 417.5,720.4 417.9,719.9 418.3,719.5 418.7,719.0 419.1,718.5 419.5,718.1 419.9,717.6 420.4,717.1 420.8,716.7 421.3,716.2 421.7,715.8 422.2,715.3 422.7,714.9 423.2,714.4 423.7,714.0 424.2,713.5 424.7,713.1 425.2,712.6 425.8,712.2 426.3,711.7 426.9,711.3 427.5,710.8 428.1,710.4 428.7,709.9 429.3,709.5 429.9,709.0 430.6,708.6 431.2,708.1 431.9,707.7 432.6,707.3 433.3,706.8 434.0,706.4 434.7,705.9 435.4,705.5 436.2,705.1 436.9,704.6 437.7,704.2 438.5,703.8 439.3,703.3 440.2,702.9 441.0,702.5 441.9,702.0 442.7,701.6 443.6,701.2 444.6,700.8 445.5,700.3 446.4,699.9 447.4,699.5 448.4,699.1 449.4,698.7 450.5,698.3 451.5,697.8 452.6,697.4 453.7,697.0 454.8,696.6 455.9,696.2 457.1,695.8 458.3,695.4 459.5,695.0 460.7,694.6 462.0,694.2 463.3,693.8 464.6,693.4 466.0,693.0 467.3,692.7 468.7,692.3 470.1,691.9 471.6,691.5 473.1,691.1 474.6,690.8 476.1,690.4 477.7,690.0 479.3,689.6 480.9,689.3 482.6,688.9 484.3,688.6 486.1,688.2 487.8,687.9 489.6,687.5 491.5,687.2 493.4,686.8 495.3,686.5 497.2,686.1 499.2,685.8 501.3,685.5 503.4,685.1 505.5,684.8 507.7,684.5 509.9,684.2 512.1,683.9 514.4,683.6 516.8,683.2 519.2,682.9 521.6,682.6 524.1,682.3 526.6,682.0 529.2,681.7 531.9,681.4 534.6,681.1 537.3,680.8 540.2,680.6 543.0,680.3 545.9,680.0 548.9,679.7 552.0,679.4 555.1,679.1 558.2,678.8 561.5,678.5 564.8,678.2 568.1,678.0 571.6,677.7 575.1,677.4 578.7,677.1 582.3,676.8 586.0,676.5 589.8,676.2 593.7,675.9 597.6,675.6 601.7,675.3 605.8,675.0 610.0,674.7 614.2,674.4 618.6,674.1 623.1,673.8 627.6,673.5 632.2,673.2 637.0,672.9 641.8,672.6 646.7,672.3 651.7,671.9 656.9,671.6 662.1,671.3 667.4,671.0 672.9,670.6 678.4,670.3" fill="none" stroke="#000000" stroke-width="2.4" stroke-linejoin="round"/><path d="M401.8,781.6 401.9,780.9 401.9,780.2 402.0,779.4 402.1,778.7 402.2,778.0 402.2,777.3 402.3,776.6 402.4,775.9 402.5,775.2 402.6,774.4 402.7,773.7 402.7,773.0 402.8,772.3 402.9,771.5 403.0,770.8 403.1,770.1 403.2,769.3 403.3,768.6 403.4,767.8 403.5,767.1 403.6,766.3 403.7,765.5 403.8,764.7 404.0,763.9 404.1,763.1 404.2,762.3 404.3,761.6 404.4,760.8 404.6,760.0 404.7,759.2 404.8,758.4 404.9,757.6 405.1,756.8 405.2,756.1 405.4,755.3 405.5,754.6 405.6,753.8 405.8,753.1 405.9,752.4 406.1,751.7 406.3,751.0 406.4,750.3 406.6,749.6 406.7,749.0 406.9,748.3 407.1,747.7 407.3,747.1 407.4,746.5 407.6,746.0 407.8,745.4 408.0,744.9 408.2,744.3 408.4,743.8 408.6,743.3 408.8,742.8 409.0,742.3 409.3,741.8 409.5,741.3 409.7,740.9 409.9,740.4 410.2,739.9 410.4,739.5 410.6,739.1 410.9,738.6 411.2,738.2 411.4,737.8 411.7,737.4 411.9,736.9 412.2,736.5 412.5,736.1 412.8,735.7 413.1,735.4 413.4,735.0 413.7,734.6 414.0,734.2 414.3,733.9 414.6,733.5 415.0,733.1 415.3,732.8 415.7,732.4 416.0,732.1 416.4,731.8 416.7,731.4 417.1,731.1 417.5,730.8 417.9,730.4 418.3,730.1 418.7,729.8 419.1,729.5 419.5,729.2 419.9,728.9 420.4,728.6 420.8,728.3 421.3,728.0 421.7,727.7 422.2,727.4 422.7,727.1 423.2,726.8 423.7,726.5 424.2,726.2 424.7,725.9 425.2,725.6 425.8,725.3 426.3,725.0 426.9,724.8 427.5,724.5 428.1,724.2 428.7,723.9 429.3,723.6 429.9,723.4 430.6,723.1 431.2,722.8 431.9,722.5 432.6,722.3 433.3,722.0 434.0,721.7 434.7,721.5 435.4,721.2 436.2,720.9 436.9,720.7 437.7,720.4 438.5,720.1 439.3,719.9 440.2,719.6 441.0,719.4 441.9,719.1 442.7,718.9 443.6,718.6 444.6,718.4 445.5,718.1 446.4,717.9 447.4,717.6 448.4,717.4 449.4,717.1 450.5,716.9 451.5,716.6 452.6,716.4 453.7,716.2 454.8,715.9 455.9,715.7 457.1,715.5 458.3,715.2 459.5,715.0 460.7,714.8 462.0,714.5 463.3,714.3 464.6,714.1 466.0,713.9 467.3,713.6 468.7,713.4 470.1,713.2 471.6,713.0 473.1,712.8 474.6,712.6 476.1,712.4 477.7,712.1 479.3,711.9 480.9,711.7 482.6,711.5 484.3,711.3 486.1,711.1 487.8,710.9 489.6,710.7 491.5,710.5 493.4,710.3 495.3,710.1 497.2,710.0 499.2,709.8 501.3,709.6 503.4,709.4 505.5,709.2 507.7,709.0 509.9,708.9 512.1,708.7 514.4,708.5 516.8,708.3 519.2,708.2 521.6,708.0 524.1,707.8 526.6,707.6 529.2,707.5 531.9,707.3 534.6,707.2 537.3,707.0 540.2,706.8 543.0,706.7 545.9,706.5 548.9,706.4 552.0,706.2 555.1,706.1 558.2,705.9 561.5,705.8 564.8,705.7 568.1,705.5 571.6,705.4 575.1,705.2 578.7,705.1 582.3,705.0 586.0,704.8 589.8,704.7 593.7,704.6 597.6,704.5 601.7,704.4 605.8,704.2 610.0,704.1 614.2,704.0 618.6,703.9 623.1,703.8 627.6,703.7 632.2,703.6 637.0,703.5 641.8,703.4 646.7,703.3 651.7,703.2 656.9,703.1 662.1,703.0 667.4,702.9 672.9,702.8 678.4,702.7" fill="none" stroke="#0000ff" stroke-width="2.4" stroke-linejoin="round"/><path d="M401.8,782.1 401.9,781.3 401.9,780.5 402.0,779.8 402.1,779.0 402.2,778.3 402.2,777.5 402.3,776.8 402.4,776.0 402.5,775.3 402.6,774.6 402.7,773.8 402.7,773.1 402.8,772.4 402.9,771.7 403.0,771.0 403.1,770.3 403.2,769.6 403.3,769.0 403.4,768.3 403.5,767.6 403.6,767.0 403.7,766.4 403.8,765.7 404.0,765.1 404.1,764.5 404.2,763.9 404.3,763.3 404.4,762.7 404.6,762.2 404.7,761.6 404.8,761.0 404.9,760.5 405.1,760.0 405.2,759.4 405.4,758.9 405.5,758.4 405.6,757.9 405.8,757.4 405.9,756.9 406.1,756.4 406.3,755.9 406.4,755.4 406.6,755.0 406.7,754.5 406.9,754.1 407.1,753.6 407.3,753.2 407.4,752.8 407.6,752.3 407.8,751.9 408.0,751.5 408.2,751.1 408.4,750.7 408.6,750.3 408.8,750.0 409.0,749.6 409.3,749.2 409.5,748.8 409.7,748.5 409.9,748.1 410.2,747.8 410.4,747.4 410.6,747.1 410.9,746.8 411.2,746.5 411.4,746.1 411.7,745.8 411.9,745.5 412.2,745.2 412.5,744.9 412.8,744.6 413.1,744.3 413.4,744.1 413.7,743.8 414.0,743.5 414.3,743.2 414.6,743.0 415.0,742.7 415.3,742.5 415.7,742.2 416.0,742.0 416.4,741.7 416.7,741.5 417.1,741.3 417.5,741.0 417.9,740.8 418.3,740.6 418.7,740.4 419.1,740.1 419.5,739.9 419.9,739.7 420.4,739.5 420.8,739.3 421.3,739.1 421.7,738.9 422.2,738.7 422.7,738.5 423.2,738.3 423.7,738.2 424.2,738.0 424.7,737.8 425.2,737.6 425.8,737.5 426.3,737.3 426.9,737.1 427.5,736.9 428.1,736.8 428.7,736.6 429.3,736.5 429.9,736.3 430.6,736.1 431.2,736.0 431.9,735.8 432.6,735.7 433.3,735.5 434.0,735.4 434.7,735.3 435.4,735.1 436.2,735.0 436.9,734.9 437.7,734.7 438.5,734.6 439.3,734.5 440.2,734.3 441.0,734.2 441.9,734.1 442.7,734.0 443.6,733.8 444.6,733.7 445.5,733.6 446.4,733.5 447.4,733.4 448.4,733.3 449.4,733.2 450.5,733.1 451.5,733.0 452.6,732.9 453.7,732.8 454.8,732.7 455.9,732.6 457.1,732.5 458.3,732.4 459.5,732.3 460.7,732.2 462.0,732.1 463.3,732.0 464.6,731.9 466.0,731.9 467.3,731.8 468.7,731.7 470.1,731.6 471.6,731.5 473.1,731.5 474.6,731.4 476.1,731.3 477.7,731.2 479.3,731.2 480.9,731.1 482.6,731.0 484.3,731.0 486.1,730.9 487.8,730.8 489.6,730.8 491.5,730.7 493.4,730.7 495.3,730.6 497.2,730.5 499.2,730.5 501.3,730.4 503.4,730.4 505.5,730.3 507.7,730.3 509.9,730.2 512.1,730.2 514.4,730.1 516.8,730.1 519.2,730.0 521.6,730.0 524.1,730.0 526.6,729.9 529.2,729.9 531.9,729.8 534.6,729.8 537.3,729.8 540.2,729.7 543.0,729.7 545.9,729.7 548.9,729.6 552.0,729.6 555.1,729.6 558.2,729.5 561.5,729.5 564.8,729.5 568.1,729.4 571.6,729.4 575.1,729.4 578.7,729.3 582.3,729.3 586.0,729.3 589.8,729.3 593.7,729.2 597.6,729.2 601.7,729.2 605.8,729.2 610.0,729.1 614.2,729.1 618.6,729.1 623.1,729.1 627.6,729.0 632.2,729.0 637.0,729.0 641.8,729.0 646.7,729.0 651.7,728.9 656.9,728.9 662.1,728.9 667.4,728.9 672.9,728.9 678.4,728.9" fill="none" stroke="#00ff00" stroke-width="2.4" stroke-linejoin="round"/></g><circle cx="399.80" cy="832.60" r="1.3" fill="#00ff00"/>
<text transform="translate(399.30,845.80) scale(0.95,1)" font-size="9.2" text-anchor="middle" fill="#262626">0</text>
<text transform="translate(427.21,845.80) scale(0.95,1)" font-size="9.2" text-anchor="middle" fill="#262626">10</text>
<text transform="translate(455.12,845.80) scale(0.95,1)" font-size="9.2" text-anchor="middle" fill="#262626">20</text>
<text transform="translate(483.03,845.80) scale(0.95,1)" font-size="9.2" text-anchor="middle" fill="#262626">30</text>
<text transform="translate(510.94,845.80) scale(0.95,1)" font-size="9.2" text-anchor="middle" fill="#262626">40</text>
<text transform="translate(538.85,845.80) scale(0.95,1)" font-size="9.2" text-anchor="middle" fill="#262626">50</text>
<text transform="translate(566.76,845.80) scale(0.95,1)" font-size="9.2" text-anchor="middle" fill="#262626">60</text>
<text transform="translate(594.67,845.80) scale(0.95,1)" font-size="9.2" text-anchor="middle" fill="#262626">70</text>
<text transform="translate(622.58,845.80) scale(0.95,1)" font-size="9.2" text-anchor="middle" fill="#262626">80</text>
<text transform="translate(650.49,845.80) scale(0.95,1)" font-size="9.2" text-anchor="middle" fill="#262626">90</text>
<text transform="translate(678.40,845.80) scale(0.95,1)" font-size="9.2" text-anchor="middle" fill="#262626">100</text>
<text transform="translate(395.40,837.00) scale(0.95,1)" font-size="9.2" text-anchor="end" fill="#262626">0</text>
<text transform="translate(395.40,792.94) scale(0.95,1)" font-size="9.2" text-anchor="end" fill="#262626">0.5</text>
<text transform="translate(395.40,748.88) scale(0.95,1)" font-size="9.2" text-anchor="end" fill="#262626">1</text>
<text transform="translate(395.40,704.82) scale(0.95,1)" font-size="9.2" text-anchor="end" fill="#262626">1.5</text>
<text transform="translate(395.40,660.76) scale(0.95,1)" font-size="9.2" text-anchor="end" fill="#262626">2</text>
<text transform="translate(395.40,616.70) scale(0.95,1)" font-size="9.2" text-anchor="end" fill="#262626">2.5</text>
<text transform="translate(399.50,611.70) scale(1.0,1)" font-size="10.8" text-anchor="start" fill="#262626">×</text>
<text transform="translate(406.30,610.80) scale(0.95,1)" font-size="9.2" text-anchor="start" fill="#262626">10</text>
<text transform="translate(415.70,605.70) scale(0.95,1)" font-size="6.6" text-anchor="start" fill="#262626">4</text>
<text x="538.85" y="608.40" font-size="9.35" font-weight="bold" text-anchor="middle" fill="#000">Proposed Method</text>
<text x="538.85" y="858.10" font-size="9.9" text-anchor="middle" fill="#262626">t</text>
<text transform="translate(378.20,722.65) rotate(-90)" font-size="9.9" text-anchor="middle" fill="#262626">I(t)</text>
<rect x="613.20" y="619.40" width="58.2" height="44.6" fill="#fff" stroke="#808080" stroke-width="1.1"/>
<rect x="628.00" y="625.20" width="1.8" height="1.8" fill="#ff0000"/>
<text x="643.50" y="629.00" font-size="8.0" fill="#000">ϕ=<tspan>1.0</tspan></text>
<rect x="628.00" y="635.80" width="1.8" height="1.8" fill="#000000"/>
<text x="643.50" y="639.60" font-size="8.0" fill="#000">ϕ=<tspan>0.95</tspan></text>
<rect x="628.00" y="646.40" width="1.8" height="1.8" fill="#0000ff"/>
<text x="643.50" y="650.20" font-size="8.0" fill="#000">ϕ=<tspan>0.90</tspan></text>
<rect x="628.00" y="657.00" width="1.8" height="1.8" fill="#00ff00"/>
<text x="643.50" y="660.80" font-size="8.0" fill="#000">ϕ=<tspan>0.85</tspan></text>
<text class="sf" x="437.10" y="885.7" font-size="14.7" textLength="161.1" lengthAdjust="spacingAndGlyphs" fill="#000">(f) Immunotherapy drug</text>
<text class="sf" x="602.90" y="885.7" font-size="14.7" textLength="22.4" lengthAdjust="spacingAndGlyphs" fill="#000"><tspan font-style="italic">I</tspan>(<tspan font-style="italic">t</tspan>)</text>
</svg></body></html>
